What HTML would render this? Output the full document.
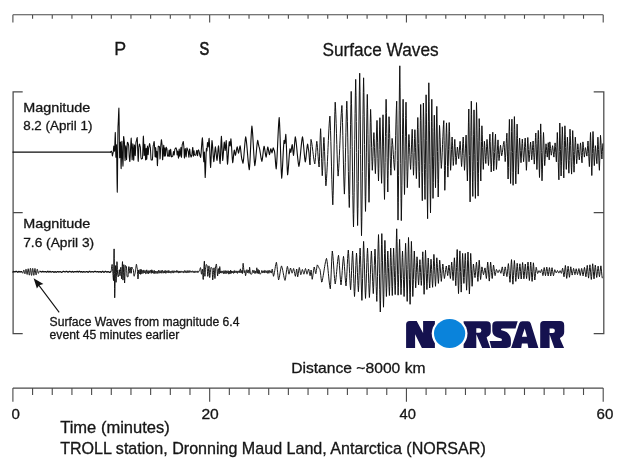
<!DOCTYPE html>
<html><head><meta charset="utf-8"><title>Seismogram</title>
<style>
html,body{margin:0;padding:0;background:#fff;}
body{width:620px;height:475px;overflow:hidden;font-family:"Liberation Sans",sans-serif;}
svg{display:block;will-change:transform;}
text{font-family:"Liberation Sans",sans-serif;fill:#151515;stroke:#151515;stroke-width:0.3px;paint-order:stroke;}
.ax{fill:none;stroke:#4a4a4a;stroke-width:1.1;}
.tr{fill:none;stroke:#0d0d0d;stroke-width:0.97;stroke-linejoin:round;stroke-linecap:round;}
</style></head><body>
<svg width="620" height="475" viewBox="0 0 620 475">
<rect width="620" height="475" fill="#fff"/>
<!-- axes -->
<path class="ax" d="M12.90 14.80 H603.20 M12.90 14.80 v7.80 M32.58 14.80 v3.90 M52.25 14.80 v3.90 M71.93 14.80 v3.90 M91.61 14.80 v3.90 M111.28 14.80 v3.90 M130.96 14.80 v3.90 M150.64 14.80 v3.90 M170.31 14.80 v3.90 M189.99 14.80 v3.90 M209.67 14.80 v7.80 M229.34 14.80 v3.90 M249.02 14.80 v3.90 M268.70 14.80 v3.90 M288.37 14.80 v3.90 M308.05 14.80 v3.90 M327.73 14.80 v3.90 M347.40 14.80 v3.90 M367.08 14.80 v3.90 M386.76 14.80 v3.90 M406.43 14.80 v7.80 M426.11 14.80 v3.90 M445.79 14.80 v3.90 M465.46 14.80 v3.90 M485.14 14.80 v3.90 M504.82 14.80 v3.90 M524.49 14.80 v3.90 M544.17 14.80 v3.90 M563.85 14.80 v3.90 M583.52 14.80 v3.90 M603.20 14.80 v7.80"/>
<path class="ax" d="M12.90 388.10 H603.20 M12.90 388.10 v13.60 M32.58 388.10 v6.80 M52.25 388.10 v6.80 M71.93 388.10 v6.80 M91.61 388.10 v6.80 M111.28 388.10 v6.80 M130.96 388.10 v6.80 M150.64 388.10 v6.80 M170.31 388.10 v6.80 M189.99 388.10 v6.80 M209.67 388.10 v13.60 M229.34 388.10 v6.80 M249.02 388.10 v6.80 M268.70 388.10 v6.80 M288.37 388.10 v6.80 M308.05 388.10 v6.80 M327.73 388.10 v6.80 M347.40 388.10 v6.80 M367.08 388.10 v6.80 M386.76 388.10 v6.80 M406.43 388.10 v13.60 M426.11 388.10 v6.80 M445.79 388.10 v6.80 M465.46 388.10 v6.80 M485.14 388.10 v6.80 M504.82 388.10 v6.80 M524.49 388.10 v6.80 M544.17 388.10 v6.80 M563.85 388.10 v6.80 M583.52 388.10 v6.80 M603.20 388.10 v13.60"/>
<!-- brackets -->
<path class="ax" style="stroke-width:1.25" d="M22.7 91.8 H13.1 V333.6 H22.7 M13.1 212.5 H22.7"/>
<path class="ax" style="stroke-width:1.25" d="M593.7 91.8 H603.8 V333.6 H593.7 M603.8 212.5 H593.7"/>
<!-- traces -->
<path class="tr" style="stroke-width:1.15" d="M12.90 152.10 L110.60 152.10"/>
<path class="tr" style="stroke-width:1.3" d="M12.90 272.04 L13.05 271.99 L13.20 271.91 L13.35 271.80 L13.50 271.69 L13.65 271.60 L13.80 271.52 L13.95 271.51 L14.10 271.56 L14.25 271.64 L14.40 271.73 L14.55 271.82 L14.70 271.90 L14.85 271.96 L15.00 271.96 L15.15 271.90 L15.30 271.81 L15.45 271.71 L15.60 271.60 L15.75 271.50 L15.90 271.40 L16.05 271.33 L16.20 271.28 L16.35 271.34 L16.50 271.41 L16.65 271.50 L16.80 271.61 L16.95 271.73 L17.10 271.84 L17.25 271.96 L17.40 272.06 L17.55 272.15 L17.70 272.22 L17.85 272.24 L18.00 272.16 L18.15 272.05 L18.30 271.91 L18.45 271.76 L18.60 271.63 L18.75 271.51 L18.90 271.44 L19.05 271.48 L19.20 271.55 L19.35 271.64 L19.50 271.73 L19.65 271.83 L19.80 271.92 L19.95 271.99 L20.10 272.01 L20.25 271.96 L20.40 271.89 L20.55 271.80 L20.70 271.71 L20.85 271.63 L21.00 271.58 L21.15 271.58 L21.30 271.63 L21.45 271.68 L21.60 271.63"/>
<path class="tr" style="stroke-width:0.95" d="M21.45 271.68 L21.60 271.63 L21.75 271.64 L21.90 271.79 L22.05 272.07 L22.20 272.42 L22.35 272.77 L22.50 273.06 L22.65 273.20 L22.80 273.13 L22.95 272.79 L23.10 272.26 L23.25 271.62 L23.40 270.98 L23.55 270.44 L23.70 270.12 L23.85 270.08 L24.00 270.34 L24.15 270.87 L24.30 271.58 L24.45 272.36 L24.60 273.11 L24.75 273.64 L24.90 273.84 L25.05 273.66 L25.20 273.11 L25.35 272.28 L25.50 271.32 L25.65 270.33 L25.80 269.58 L25.95 269.20 L26.10 269.27 L26.25 269.79 L26.40 270.67 L26.55 271.76 L26.70 272.87 L26.85 273.78 L27.00 274.35 L27.15 274.48 L27.30 274.10 L27.45 273.27 L27.60 272.14 L27.75 270.90 L27.90 269.79 L28.05 269.01 L28.20 268.73 L28.35 269.02 L28.50 269.84 L28.65 271.06 L28.80 272.39 L28.95 273.66 L29.10 274.64 L29.25 275.15 L29.40 275.10 L29.55 274.46 L29.70 273.42 L29.85 272.09 L30.00 270.67 L30.15 269.42 L30.30 268.56 L30.45 268.25 L30.60 268.55 L30.75 269.42 L30.90 270.72 L31.05 272.24 L31.20 273.67 L31.35 274.77 L31.50 275.37 L31.65 275.37 L31.80 274.76 L31.95 273.63 L32.10 272.18 L32.25 270.71 L32.40 269.47 L32.55 268.63 L32.70 268.37 L32.85 268.72 L33.00 269.62 L33.15 270.90 L33.30 272.28 L33.45 273.62 L33.60 274.67 L33.75 275.26 L33.90 275.29 L34.05 274.73 L34.20 273.70 L34.35 272.35 L34.50 270.93 L34.65 269.67 L34.80 268.76 L34.95 268.43 L35.10 268.68 L35.25 269.45 L35.40 270.60 L35.55 271.93 L35.70 273.21 L35.85 274.24 L36.00 274.86 L36.15 274.89 L36.30 274.44 L36.45 273.60 L36.60 272.51 L36.75 271.37 L36.90 270.34 L37.05 269.60 L37.20 269.23 L37.35 269.28 L37.50 269.73 L37.65 270.48 L37.80 271.34 L37.95 272.17 L38.10 272.84 L38.25 273.26 L38.40 273.39 L38.55 273.25 L38.70 272.90 L38.85 272.44 L39.00 271.97 L39.15 271.55 L39.30 271.23 L39.45 271.08 L39.60 271.09 L39.75 271.20 L39.90 271.36 L40.05 271.50 L40.20 271.57 L40.35 271.54 L40.50 271.45"/>
<path class="tr" style="stroke-width:1.3" d="M40.50 271.45 L40.65 271.52 L40.80 271.60 L40.95 271.69 L41.10 271.78 L41.25 271.86 L41.40 271.94 L41.55 271.99 L41.70 272.00 L41.85 271.93 L42.00 271.84 L42.15 271.73 L42.30 271.61 L42.45 271.50 L42.60 271.41 L42.75 271.34 L42.90 271.36 L43.05 271.45 L43.20 271.57 L43.35 271.71 L43.50 271.83 L43.65 271.93 L43.80 271.96 L43.95 271.93 L44.10 271.89 L44.25 271.84 L44.40 271.79 L44.55 271.73 L44.70 271.67 L44.85 271.62 L45.00 271.58 L45.15 271.55 L45.30 271.56 L45.45 271.61 L45.60 271.67 L45.75 271.75 L45.90 271.83 L46.05 271.92 L46.20 272.00 L46.35 272.07 L46.50 272.12 L46.65 272.12 L46.80 272.04 L46.95 271.93 L47.10 271.79 L47.25 271.65 L47.40 271.51 L47.55 271.39 L47.70 271.29 L47.85 271.27 L48.00 271.36 L48.15 271.49 L48.30 271.64 L48.45 271.80 L48.60 271.94 L48.75 272.05 L48.90 272.11 L49.05 272.04 L49.20 271.94 L49.35 271.82 L49.50 271.69 L49.65 271.57 L49.80 271.47 L49.95 271.40 L50.10 271.45 L50.25 271.53 L50.40 271.64 L50.55 271.75 L50.70 271.87 L50.85 271.97 L51.00 272.05 L51.15 272.09 L51.30 272.05 L51.45 272.00 L51.60 271.94 L51.75 271.88 L51.90 271.81 L52.05 271.74 L52.20 271.67 L52.35 271.61 L52.50 271.56 L52.65 271.53 L52.80 271.56 L52.95 271.63 L53.10 271.71 L53.25 271.82 L53.40 271.93 L53.55 272.04 L53.70 272.14 L53.85 272.22 L54.00 272.29 L54.15 272.29 L54.30 272.20 L54.45 272.09 L54.60 271.95 L54.75 271.82 L54.90 271.71 L55.05 271.63 L55.20 271.67 L55.35 271.74 L55.50 271.84 L55.65 271.96 L55.80 272.06 L55.95 272.16 L56.10 272.23 L56.25 272.24 L56.40 272.19 L56.55 272.12 L56.70 272.04 L56.85 271.94 L57.00 271.85 L57.15 271.76 L57.30 271.68 L57.45 271.61 L57.60 271.56 L57.75 271.58 L57.90 271.63 L58.05 271.70 L58.20 271.77 L58.35 271.85 L58.50 271.92 L58.65 271.97 L58.80 272.01 L58.95 272.00 L59.10 271.97 L59.25 271.92 L59.40 271.86 L59.55 271.80 L59.70 271.75 L59.85 271.70 L60.00 271.66 L60.15 271.63 L60.30 271.67 L60.45 271.73 L60.60 271.80 L60.75 271.88 L60.90 271.96 L61.05 272.05 L61.20 272.13 L61.35 272.20 L61.50 272.26 L61.65 272.30 L61.80 272.27 L61.95 272.21 L62.10 272.13 L62.25 272.04 L62.40 271.94 L62.55 271.84 L62.70 271.73 L62.85 271.63 L63.00 271.54 L63.15 271.46 L63.30 271.40 L63.45 271.36 L63.60 271.39 L63.75 271.43 L63.90 271.48 L64.05 271.54 L64.20 271.60 L64.35 271.67 L64.50 271.74 L64.65 271.80 L64.80 271.86 L64.95 271.90 L65.10 271.94 L65.25 271.94 L65.40 271.88 L65.55 271.78 L65.70 271.67 L65.85 271.56 L66.00 271.44 L66.15 271.35 L66.30 271.28 L66.45 271.29 L66.60 271.35 L66.75 271.42 L66.90 271.51 L67.05 271.61 L67.20 271.72 L67.35 271.82 L67.50 271.92 L67.65 272.00 L67.80 272.07 L67.95 272.11 L68.10 272.08 L68.25 272.03 L68.40 271.97 L68.55 271.90 L68.70 271.83 L68.85 271.75 L69.00 271.67 L69.15 271.59 L69.30 271.53 L69.45 271.47 L69.60 271.42 L69.75 271.41 L69.90 271.45 L70.05 271.50 L70.20 271.57 L70.35 271.64 L70.50 271.72 L70.65 271.80 L70.80 271.88 L70.95 271.95 L71.10 272.00 L71.25 272.05 L71.40 272.05 L71.55 271.99 L71.70 271.90 L71.85 271.79 L72.00 271.68 L72.15 271.59 L72.30 271.51 L72.45 271.48 L72.60 271.55 L72.75 271.65 L72.90 271.77 L73.05 271.89 L73.20 271.99 L73.35 272.07 L73.50 272.09 L73.65 272.06 L73.80 272.02 L73.95 271.96 L74.10 271.90 L74.25 271.84 L74.40 271.78 L74.55 271.71 L74.70 271.65 L74.85 271.60 L75.00 271.56 L75.15 271.53 L75.30 271.55 L75.45 271.62 L75.60 271.71 L75.75 271.80 L75.90 271.89 L76.05 271.95 L76.20 271.94 L76.35 271.86 L76.50 271.76 L76.65 271.64 L76.80 271.53 L76.95 271.43 L77.10 271.36 L77.25 271.36 L77.40 271.44 L77.55 271.53 L77.70 271.64 L77.85 271.76 L78.00 271.87 L78.15 271.96 L78.30 272.04 L78.45 272.04 L78.60 271.94 L78.75 271.80 L78.90 271.64 L79.05 271.49 L79.20 271.36 L79.35 271.27 L79.50 271.30 L79.65 271.38 L79.80 271.48 L79.95 271.59 L80.10 271.71 L80.25 271.82 L80.40 271.92 L80.55 272.00 L80.70 272.02 L80.85 271.98 L81.00 271.90 L81.15 271.82 L81.30 271.74 L81.45 271.67 L81.60 271.63 L81.75 271.68 L81.90 271.76 L82.05 271.86 L82.20 271.97 L82.35 272.07 L82.50 272.16 L82.65 272.22 L82.80 272.17 L82.95 272.09 L83.10 271.99 L83.25 271.88 L83.40 271.77 L83.55 271.69 L83.70 271.63 L83.85 271.66 L84.00 271.70 L84.15 271.75 L84.30 271.81 L84.45 271.87 L84.60 271.93 L84.75 271.98 L84.90 272.02 L85.05 272.05 L85.20 272.03 L85.35 272.00 L85.50 271.96 L85.65 271.92 L85.80 271.87 L85.95 271.82 L86.10 271.77 L86.25 271.73 L86.40 271.68 L86.55 271.65 L86.70 271.62 L86.85 271.60 L87.00 271.65 L87.15 271.71 L87.30 271.79 L87.45 271.88 L87.60 271.98 L87.75 272.07 L87.90 272.15 L88.05 272.21 L88.20 272.26 L88.35 272.20 L88.50 272.09 L88.65 271.96 L88.80 271.81 L88.95 271.65 L89.10 271.51 L89.25 271.38 L89.40 271.29 L89.55 271.28 L89.70 271.34 L89.85 271.43 L90.00 271.54 L90.15 271.65 L90.30 271.77 L90.45 271.87 L90.60 271.96 L90.75 272.03 L90.90 272.03 L91.05 271.99 L91.20 271.94 L91.35 271.88 L91.50 271.82 L91.65 271.76 L91.80 271.70 L91.95 271.66 L92.10 271.64 L92.25 271.67 L92.40 271.71 L92.55 271.77 L92.70 271.83 L92.85 271.90 L93.00 271.95 L93.15 272.00 L93.30 272.04 L93.45 272.03 L93.60 271.98 L93.75 271.92 L93.90 271.85 L94.05 271.77 L94.20 271.69 L94.35 271.61 L94.50 271.53 L94.65 271.45 L94.80 271.39 L94.95 271.34 L95.10 271.33 L95.25 271.37 L95.40 271.44 L95.55 271.53 L95.70 271.62 L95.85 271.71 L96.00 271.80 L96.15 271.87 L96.30 271.93 L96.45 271.96 L96.60 271.92 L96.75 271.86 L96.90 271.79 L97.05 271.72 L97.20 271.66 L97.35 271.60 L97.50 271.56 L97.65 271.58 L97.80 271.64 L97.95 271.72 L98.10 271.81 L98.25 271.89 L98.40 271.97 L98.55 272.02 L98.70 272.03 L98.85 272.01 L99.00 271.97 L99.15 271.93 L99.30 271.88 L99.45 271.82 L99.60 271.77 L99.75 271.72 L99.90 271.68 L100.05 271.64 L100.20 271.61 L100.35 271.61 L100.50 271.70 L100.65 271.83 L100.80 271.97 L100.95 272.12 L101.10 272.24 L101.25 272.32 L101.40 272.26 L101.55 272.16 L101.70 272.04 L101.85 271.90 L102.00 271.75 L102.15 271.60 L102.30 271.47 L102.45 271.36 L102.60 271.28 L102.75 271.29 L102.90 271.39 L103.05 271.52 L103.20 271.68 L103.35 271.84 L103.50 272.00 L103.65 272.14 L103.80 272.25 L103.95 272.30 L104.10 272.24 L104.25 272.16 L104.40 272.05 L104.55 271.93 L104.70 271.80 L104.85 271.67 L105.00 271.55 L105.15 271.45 L105.30 271.38 L105.45 271.34 L105.60 271.39 L105.75 271.46 L105.90 271.54 L106.05 271.64 L106.20 271.74 L106.35 271.84 L106.50 271.94 L106.65 272.02 L106.80 272.09 L106.95 272.14 L107.10 272.11 L107.25 272.02 L107.40 271.92 L107.55 271.80 L107.70 271.69 L107.85 271.61 L108.00 271.57 L108.15 271.61 L108.30 271.67 L108.45 271.74 L108.60 271.82 L108.75 271.90 L108.90 271.99 L109.05 272.07 L109.20 272.15 L109.35 272.22 L109.50 272.27 L109.65 272.31 L109.80 272.27 L109.95 272.22 L110.10 272.15 L110.25 272.07 L110.40 271.99 L110.55 271.90 L110.70 271.81 L110.85 271.72"/>
<path class="tr" style="stroke-width:1.05" d="M110.60 152.10 L111.40 151.21 L111.55 151.48 L111.70 151.92 L111.85 152.33 L112.00 152.69 L112.15 153.94 L112.30 155.41 L112.45 155.88 L112.60 155.28 L112.75 154.45 L112.90 153.59 L113.05 152.92 L113.20 152.33 L113.35 150.97 L113.50 149.15 L113.65 147.38 L113.80 146.14 L113.95 146.58 L114.10 147.99 L114.25 149.65 L114.40 151.05 L114.55 151.21 L114.70 148.20 L114.85 143.84 L115.00 139.07 L115.15 134.97 L115.30 132.40 L115.45 137.46 L115.60 145.48 L115.75 153.25 L115.90 157.13 L116.05 154.16 L116.20 149.82 L116.35 145.79 L116.50 144.80 L116.65 151.85 L116.80 162.22 L116.95 173.92 L117.10 184.58 L117.25 192.11 L117.40 187.60 L117.55 172.62 L117.70 154.12 L117.85 137.27 L118.00 126.53 L118.15 124.31 L118.30 121.11 L118.45 117.21 L118.60 113.30 L118.75 110.06 L118.90 108.00 L119.05 114.81 L119.20 125.65 L119.35 138.26 L119.50 149.80 L119.65 157.77 L119.80 157.49 L119.95 154.21 L120.10 150.10 L120.25 145.98 L120.40 142.69 L120.55 142.05 L120.70 148.76 L120.85 158.09 L121.00 166.31 L121.15 168.65 L121.30 164.09 L121.45 157.66 L121.60 150.73 L121.75 144.85 L121.90 141.32 L122.05 145.01 L122.20 150.65 L122.35 155.49 L122.50 157.67 L122.65 160.42 L122.80 163.71 L122.95 166.22 L123.10 163.27 L123.25 154.69 L123.40 144.83 L123.55 137.44 L123.70 136.43 L123.85 137.47 L124.00 138.80 L124.15 140.13 L124.30 141.20 L124.45 142.37 L124.60 146.68 L124.75 152.64 L124.90 158.13 L125.05 160.81 L125.20 158.53 L125.35 155.10 L125.50 151.26 L125.65 147.90 L125.80 145.75 L125.95 147.61 L126.10 150.88 L126.25 154.64 L126.40 157.89 L126.55 159.63 L126.70 157.41 L126.85 154.01 L127.00 150.02 L127.15 146.24 L127.30 143.36 L127.45 142.32 L127.60 142.40 L127.75 142.49 L127.90 142.67 L128.05 143.08 L128.20 143.60 L128.35 144.10 L128.50 144.45 L128.65 145.56 L128.80 148.06 L128.95 151.25 L129.10 154.45 L129.25 156.97 L129.40 158.28 L129.55 159.67 L129.70 161.26 L129.85 161.47 L130.00 159.71 L130.15 157.29 L130.30 154.34 L130.45 151.07 L130.60 147.72 L130.75 144.53 L130.90 141.74 L131.05 139.52 L131.20 138.00 L131.35 140.29 L131.50 143.85 L131.65 148.22 L131.80 152.75 L131.95 156.76 L132.10 159.69 L132.25 159.48 L132.40 156.03 L132.55 151.53 L132.70 147.11 L132.85 143.89 L133.00 144.37 L133.15 147.64 L133.30 151.89 L133.45 156.16 L133.60 159.51 L133.75 160.33 L133.90 157.59 L134.05 153.74 L134.20 149.66 L134.35 146.32 L134.50 144.91 L134.65 146.66 L134.80 149.23 L134.95 152.04 L135.10 154.41 L135.25 155.60 L135.40 153.59 L135.55 150.52 L135.70 147.05 L135.85 143.98 L136.00 141.98 L136.15 141.56 L136.30 141.07 L136.45 140.45 L136.60 139.76 L136.75 139.06 L136.90 138.44 L137.05 137.93 L137.20 137.60 L137.35 139.97 L137.50 143.64 L137.65 148.16 L137.80 152.91 L137.95 157.21 L138.10 160.48 L138.25 161.35 L138.40 158.72 L138.55 155.01 L138.70 151.06 L138.85 147.78 L139.00 145.99 L139.15 145.46 L139.30 144.71 L139.45 144.11 L139.60 144.21 L139.75 144.72 L139.90 145.37 L140.05 146.04 L140.20 146.59 L140.35 147.04 L140.50 149.25 L140.65 152.55 L140.80 155.68 L140.95 157.40 L141.10 157.89 L141.25 158.56 L141.40 159.00 L141.55 158.95 L141.70 158.88 L141.85 158.78 L142.00 158.68 L142.15 158.59 L142.30 158.51 L142.45 158.46 L142.60 156.24 L142.75 152.52 L142.90 147.94 L143.05 143.19 L143.20 139.06 L143.35 136.14 L143.50 137.22 L143.65 141.40 L143.80 146.67 L143.95 151.76 L144.10 155.46 L144.25 155.29 L144.40 152.38 L144.55 148.79 L144.70 145.65 L144.85 144.29 L145.00 146.53 L145.15 149.87 L145.30 153.72 L145.45 157.32 L145.60 160.00 L145.75 159.85 L145.90 156.12 L146.05 151.62 L146.20 148.29 L146.35 150.04 L146.50 154.96 L146.65 159.21 L146.80 158.95 L146.95 156.43 L147.10 153.19 L147.25 149.89 L147.40 147.21 L147.55 145.98 L147.70 147.91 L147.85 150.73 L148.00 153.38 L148.15 154.69 L148.30 153.35 L148.45 151.34 L148.60 149.25 L148.75 147.75 L148.90 147.15 L149.05 146.41 L149.20 145.47 L149.35 144.54 L149.50 143.80 L149.65 143.63 L149.80 144.29 L149.95 145.21 L150.10 146.13 L150.25 146.79 L150.40 147.93 L150.55 150.35 L150.70 153.45 L150.85 156.56 L151.00 158.99 L151.15 160.00 L151.30 160.00 L151.45 160.00 L151.60 159.99 L151.75 159.98 L151.90 159.96 L152.05 159.94 L152.20 159.93 L152.35 159.92 L152.50 158.58 L152.65 155.87 L152.80 152.49 L152.95 149.16 L153.10 146.57 L153.25 145.37 L153.40 144.90 L153.55 144.22 L153.70 143.44 L153.85 142.65 L154.00 141.98 L154.15 141.51 L154.30 142.56 L154.45 145.40 L154.60 147.60 L154.75 149.70 L154.90 153.20 L155.05 156.43 L155.20 156.93 L155.35 154.07 L155.50 150.44 L155.65 147.61 L155.80 148.30 L155.95 151.80 L156.10 155.52 L156.25 157.33 L156.40 155.68 L156.55 153.31 L156.70 151.25 L156.85 151.48 L157.00 155.33 L157.15 160.30 L157.30 164.58 L157.45 165.70 L157.60 162.88 L157.75 158.89 L157.90 154.41 L158.05 150.25 L158.20 147.13 L158.35 146.09 L158.50 146.26 L158.65 146.47 L158.80 146.60 L158.95 146.58 L159.10 146.55 L159.25 146.52 L159.40 146.49 L159.55 147.48 L159.70 151.19 L159.85 155.65 L160.00 158.87 L160.15 157.96 L160.30 155.43 L160.45 152.25 L160.60 148.95 L160.75 146.11 L160.90 144.20 L161.05 143.04 L161.20 141.23 L161.35 139.69 L161.50 139.88 L161.65 141.03 L161.80 142.49 L161.95 143.90 L162.10 144.93 L162.25 147.43 L162.40 153.89 L162.55 159.73 L162.70 159.79 L162.85 157.32 L163.00 154.24 L163.15 151.35 L163.30 149.37 L163.45 148.28 L163.60 146.60 L163.75 145.17 L163.90 147.01 L164.05 152.18 L164.20 156.14 L164.35 154.72 L164.50 151.92 L164.65 149.19 L164.80 148.09 L164.95 150.43 L165.10 153.62 L165.25 156.00 L165.40 155.53 L165.55 154.01 L165.70 152.10 L165.85 150.11 L166.00 148.41 L166.15 147.27 L166.30 147.32 L166.45 147.64 L166.60 147.99 L166.75 148.25 L166.90 148.91 L167.05 150.38 L167.20 152.25 L167.35 154.12 L167.50 155.59 L167.65 156.20 L167.80 156.20 L167.95 156.21 L168.10 156.22 L168.25 156.22 L168.40 156.22 L168.55 155.45 L168.70 154.15 L168.85 152.61 L169.00 151.15 L169.15 150.07 L169.30 150.39 L169.45 152.37 L169.60 154.74 L169.75 156.58 L169.90 156.45 L170.05 154.99 L170.20 153.10 L170.35 151.21 L170.50 149.72 L170.65 149.32 L170.80 150.34 L170.95 151.77 L171.10 153.42 L171.25 154.99 L171.40 156.24 L171.55 156.89 L171.70 156.83 L171.85 156.74 L172.00 156.64 L172.15 156.52 L172.30 156.41 L172.45 156.31 L172.60 156.23 L172.75 156.05 L172.90 155.34 L173.05 154.33 L173.20 153.22 L173.35 152.23 L173.50 151.55 L173.65 151.90 L173.80 152.95 L173.95 154.14 L174.10 155.02 L174.25 154.70 L174.40 153.49 L174.55 151.95 L174.70 150.43 L174.85 149.29 L175.00 148.88 L175.15 148.75 L175.30 148.58 L175.45 148.38 L175.60 148.18 L175.75 148.00 L175.90 147.86 L176.05 147.87 L176.20 148.26 L176.35 148.73 L176.50 149.04 L176.65 150.08 L176.80 151.76 L176.95 153.56 L177.10 154.86 L177.25 154.62 L177.40 153.42 L177.55 152.06 L177.70 151.08 L177.85 151.63 L178.00 153.17 L178.15 155.06 L178.30 156.86 L178.45 158.14 L178.60 157.51 L178.75 155.31 L178.90 152.63 L179.05 150.27 L179.20 149.11 L179.35 150.42 L179.50 152.41 L179.65 154.51 L179.80 156.11 L179.95 156.23 L180.10 155.25 L180.25 153.92 L180.40 152.38 L180.55 150.79 L180.70 149.33 L180.85 148.17 L181.00 147.40 L181.15 150.22 L181.30 154.41 L181.45 157.34 L181.60 155.82 L181.75 153.18 L181.90 150.03 L182.05 147.06 L182.20 144.87 L182.35 144.12 L182.50 143.78 L182.65 143.33 L182.80 142.81 L182.95 142.31 L183.10 141.87 L183.25 141.57 L183.40 142.13 L183.55 143.70 L183.70 145.19 L183.85 146.55 L184.00 149.69 L184.15 153.66 L184.30 157.04 L184.45 158.09 L184.60 156.62 L184.75 154.54 L184.90 152.23 L185.05 150.13 L185.20 148.64 L185.35 148.86 L185.50 150.29 L185.65 152.15 L185.80 154.12 L185.95 155.84 L186.10 157.01 L186.25 156.26 L186.40 154.33 L186.55 151.96 L186.70 149.72 L186.85 148.13 L187.00 147.94 L187.15 148.26 L187.30 148.67 L187.45 149.15 L187.60 149.64 L187.75 150.10 L187.90 150.47 L188.05 150.74 L188.20 151.37 L188.35 152.59 L188.50 154.12 L188.65 155.65 L188.80 156.87 L188.95 157.23 L189.10 155.56 L189.25 153.16 L189.40 150.72 L189.55 148.96 L189.70 149.08 L189.85 150.23 L190.00 151.69 L190.15 153.16 L190.30 154.30 L190.45 154.86 L190.60 155.31 L190.75 155.94 L190.90 156.56 L191.05 157.01 L191.20 156.95 L191.35 156.57 L191.50 156.15 L191.65 155.86 L191.80 155.20 L191.95 154.12 L192.10 152.75 L192.25 151.24 L192.40 149.74 L192.55 148.43 L192.70 147.44 L192.85 147.46 L193.00 149.85 L193.15 153.01 L193.30 155.68 L193.45 156.18 L193.60 154.58 L193.75 152.56 L193.90 150.93 L194.05 150.85 L194.20 152.00 L194.35 153.41 L194.50 154.57 L194.65 154.98 L194.80 155.01 L194.95 155.04 L195.10 155.08 L195.25 155.12 L195.40 155.15 L195.55 155.18 L195.70 155.20 L195.85 154.79 L196.00 154.18 L196.15 153.40 L196.30 152.56 L196.45 151.72 L196.60 150.99 L196.75 150.44 L196.90 150.39 L197.05 151.54 L197.20 153.13 L197.35 154.70 L197.50 155.80 L197.65 155.45 L197.80 154.40 L197.95 153.06 L198.10 151.70 L198.25 150.56 L198.25 150.56 L198.38 150.28"/>
<path class="tr" style="stroke-width:1.12" d="M198.25 150.56 L198.25 150.56 L198.38 150.28 L198.50 150.00 L198.85 150.83 L199.20 152.13 L199.55 153.70 L199.90 155.27 L200.25 156.57 L200.60 157.40 L200.90 155.22 L201.20 151.79 L201.50 147.65 L201.80 143.51 L202.10 140.08 L202.40 137.90 L202.75 142.48 L203.10 149.75 L203.45 157.02 L203.80 161.60 L204.10 156.80 L204.40 152.00 L204.80 164.70 L205.20 177.40 L205.50 171.82 L205.80 162.95 L206.10 154.08 L206.40 148.50 L206.65 149.75 L206.90 151.00 L207.20 146.80 L207.50 142.60 L207.85 144.80 L208.20 147.00 L208.50 144.53 L208.80 140.87 L209.10 138.40 L209.40 142.53 L209.70 149.13 L210.00 156.67 L210.30 163.27 L210.60 167.40 L210.95 162.21 L211.30 153.95 L211.65 145.69 L212.00 140.50 L212.30 142.86 L212.60 146.57 L212.90 151.05 L213.20 155.53 L213.50 159.24 L213.80 161.60 L214.12 159.49 L214.44 156.12 L214.76 152.28 L215.08 148.91 L215.40 146.80 L215.72 148.75 L216.04 151.87 L216.36 155.43 L216.68 158.55 L217.00 160.50 L217.30 158.40 L217.60 155.06 L217.90 151.24 L218.20 147.90 L218.50 145.80 L218.82 148.35 L219.14 152.42 L219.46 157.08 L219.78 161.15 L220.10 163.70 L220.43 158.41 L220.75 150.00 L221.07 141.59 L221.40 136.30 L221.72 140.97 L222.05 148.40 L222.38 155.83 L222.70 160.50 L223.02 157.88 L223.34 153.69 L223.66 148.91 L223.98 144.72 L224.30 142.10 L224.75 146.30 L225.20 150.50 L225.53 147.62 L225.87 143.38 L226.20 140.50 L226.52 145.08 L226.85 152.35 L227.18 159.62 L227.50 164.20 L227.80 161.67 L228.10 157.70 L228.40 152.90 L228.70 148.10 L229.00 144.13 L229.30 141.60 L229.70 143.80 L230.10 146.00 L230.50 142.45 L230.90 138.90 L231.26 142.28 L231.62 147.67 L231.98 153.83 L232.34 159.22 L232.70 162.60 L233.02 160.80 L233.34 157.94 L233.66 154.66 L233.98 151.80 L234.30 150.00 L234.67 151.52 L235.03 153.78 L235.40 155.30 L235.76 154.09 L236.12 152.15 L236.48 149.95 L236.84 148.01 L237.20 146.80 L237.52 148.04 L237.85 150.00 L238.18 151.96 L238.50 153.20 L238.82 152.15 L239.14 150.46 L239.46 148.54 L239.78 146.85 L240.10 145.80 L240.40 147.33 L240.70 149.74 L241.00 152.65 L241.30 155.56 L241.60 157.97 L241.90 159.50 L242.27 160.56 L242.63 162.14 L243.00 163.20 L243.34 161.17 L243.68 158.12 L244.01 154.30 L244.35 150.05 L244.69 145.80 L245.02 141.98 L245.36 138.93 L245.70 136.90 L246.00 138.44 L246.30 140.58 L246.60 143.25 L246.90 146.36 L247.20 149.77 L247.50 153.35 L247.80 156.93 L248.10 160.34 L248.40 163.45 L248.70 166.12 L249.00 168.26 L249.30 169.80 L249.62 166.42 L249.95 161.34 L250.28 154.97 L250.60 147.90 L250.93 140.83 L251.25 134.46 L251.58 129.38 L251.90 126.00 L252.22 128.64 L252.54 132.51 L252.87 137.38 L253.19 142.92 L253.51 148.68 L253.83 154.22 L254.16 159.09 L254.48 162.96 L254.80 165.60 L255.12 163.92 L255.44 161.44 L255.77 158.33 L256.09 154.79 L256.41 151.11 L256.73 147.57 L257.06 144.46 L257.38 141.98 L257.70 140.30 L258.10 142.00 L258.50 144.50 L258.90 146.20 L259.20 147.08 L259.50 148.35 L259.80 149.95 L260.10 151.79 L260.40 153.75 L260.70 155.71 L261.00 157.55 L261.30 159.15 L261.60 160.42 L261.90 161.30 L262.21 159.92 L262.53 157.80 L262.84 155.16 L263.16 152.34 L263.47 149.70 L263.79 147.58 L264.10 146.20 L264.43 147.42 L264.77 149.33 L265.10 151.65 L265.43 153.97 L265.77 155.88 L266.10 157.10 L266.44 155.66 L266.78 153.36 L267.12 150.74 L267.46 148.44 L267.80 147.00 L268.14 148.08 L268.48 149.81 L268.82 151.79 L269.16 153.52 L269.50 154.60 L269.82 153.46 L270.15 151.65 L270.48 149.84 L270.80 148.70 L271.20 149.91 L271.60 151.69 L272.00 152.90 L272.40 151.46 L272.80 149.34 L273.20 147.90 L273.52 148.54 L273.85 149.55 L274.18 150.56 L274.50 151.20 L274.84 153.72 L275.18 157.75 L275.52 162.35 L275.86 166.38 L276.20 168.90 L276.50 165.90 L276.80 161.57 L277.10 156.13 L277.40 149.88 L277.70 143.20 L278.00 136.52 L278.30 130.27 L278.60 124.83 L278.90 120.50 L279.20 117.50 L279.51 122.19 L279.82 129.22 L280.14 138.05 L280.45 147.85 L280.76 157.65 L281.07 166.48 L281.39 173.51 L281.70 178.20 L282.00 175.27 L282.30 170.88 L282.60 165.37 L282.90 159.25 L283.20 153.13 L283.50 147.62 L283.80 143.23 L284.10 140.30 L284.50 141.90 L284.90 143.50 L285.20 140.88 L285.50 137.02 L285.80 134.40 L286.10 138.92 L286.40 146.02 L286.70 154.60 L287.00 163.19 L287.30 170.28 L287.60 174.80 L287.94 172.41 L288.29 168.74 L288.63 164.19 L288.97 159.31 L289.31 154.76 L289.66 151.09 L290.00 148.70 L290.40 150.60 L290.80 152.50 L291.15 150.96 L291.50 148.50 L291.85 146.04 L292.20 144.50 L292.52 146.62 L292.85 150.00 L293.18 153.38 L293.50 155.50 L293.80 153.42 L294.10 150.15 L294.40 146.20 L294.70 142.25 L295.00 138.98 L295.30 136.90 L295.63 138.44 L295.95 140.61 L296.28 143.34 L296.61 146.50 L296.94 149.94 L297.26 153.46 L297.59 156.90 L297.92 160.06 L298.25 162.79 L298.57 164.96 L298.90 166.50 L299.20 165.11 L299.50 163.18 L299.80 160.77 L300.10 157.96 L300.40 154.88 L300.70 151.65 L301.00 148.42 L301.30 145.34 L301.60 142.53 L301.90 140.12 L302.20 138.19 L302.50 136.80 L302.81 138.48 L303.12 140.94 L303.43 144.05 L303.74 147.57 L304.06 151.23 L304.37 154.75 L304.68 157.86 L304.99 160.32 L305.30 162.00 L305.63 160.35 L305.96 157.82 L306.29 154.68 L306.61 151.32 L306.94 148.18 L307.27 145.65 L307.60 144.00 L307.93 145.72 L308.27 148.28 L308.60 150.00 L308.95 152.80 L309.30 157.25 L309.65 161.70 L310.00 164.50"/>
<path class="tr" d="M310.00 164.50 L310.33 157.28 L310.67 146.62 L311.00 139.40 L311.32 140.55 L311.63 142.14 L311.95 144.13 L312.27 146.44 L312.58 148.99 L312.90 151.65 L313.22 154.31 L313.53 156.86 L313.85 159.17 L314.17 161.16 L314.48 162.75 L314.80 163.90 L315.13 161.37 L315.47 157.40 L315.80 152.60 L316.13 147.80 L316.47 143.83 L316.80 141.30 L317.13 143.65 L317.46 147.27 L317.79 151.75 L318.11 156.55 L318.44 161.03 L318.77 164.65 L319.10 167.00 L319.40 161.54 L319.70 152.83 L320.00 142.87 L320.30 134.16 L320.60 128.70 L320.93 135.40 L321.26 146.09 L321.59 158.31 L321.92 169.01 L322.25 175.71 L322.58 170.25 L322.91 161.53 L323.24 151.58 L323.57 142.86 L323.90 137.40 L324.23 142.81 L324.57 151.31 L324.90 161.60 L325.23 171.88 L325.57 180.39 L325.90 185.80 L326.21 182.83 L326.52 178.78 L326.82 173.74 L327.13 167.87 L327.44 161.37 L327.75 154.47 L328.05 147.43 L328.36 140.53 L328.67 134.03 L328.98 128.16 L329.28 123.12 L329.59 119.07 L329.90 116.10 L330.22 122.01 L330.54 130.68 L330.87 141.60 L331.19 154.00 L331.51 166.90 L331.83 179.30 L332.16 190.22 L332.48 198.89 L332.80 204.80 L333.14 195.41 L333.49 180.99 L333.83 163.08 L334.17 143.92 L334.51 126.01 L334.86 111.59 L335.20 102.20 L335.52 107.12 L335.84 114.34 L336.17 123.45 L336.49 133.77 L336.81 144.53 L337.13 154.85 L337.46 163.96 L337.78 171.18 L338.10 176.10 L338.42 172.79 L338.73 168.20 L339.05 162.47 L339.37 155.80 L339.68 148.47 L340.00 140.80 L340.32 133.13 L340.63 125.80 L340.95 119.13 L341.27 113.40 L341.58 108.81 L341.90 105.50 L342.21 112.34 L342.52 122.60 L342.84 135.49 L343.15 149.80 L343.46 164.11 L343.77 177.00 L344.09 187.26 L344.40 194.10 L344.70 186.93 L345.00 176.17 L345.30 162.65 L345.60 147.65 L345.90 132.65 L346.20 119.13 L346.50 108.37 L346.80 101.20 L347.11 109.40 L347.43 121.72 L347.74 137.18 L348.05 154.35 L348.36 171.52 L348.68 186.98 L348.99 199.30 L349.30 207.50 L349.62 194.52 L349.93 174.12 L350.25 149.45 L350.57 124.78 L350.88 104.38 L351.20 91.40 L351.53 103.81 L351.86 122.87 L352.19 146.54 L352.51 171.86 L352.84 195.53 L353.17 214.59 L353.50 227.00 L353.81 213.49 L354.13 192.74 L354.44 166.98 L354.76 139.42 L355.07 113.66 L355.39 92.91 L355.70 79.40 L356.02 95.74 L356.33 121.40 L356.65 152.45 L356.97 183.50 L357.28 209.16 L357.60 225.50 L357.95 208.47 L358.30 181.71 L358.65 149.35 L359.00 116.99 L359.35 90.23 L359.70 73.20 L360.00 91.37 L360.30 119.92 L360.60 154.45 L360.90 188.98 L361.20 217.53 L361.50 235.70 L361.80 221.25 L362.10 199.05 L362.40 171.49 L362.70 142.01 L363.00 114.45 L363.30 92.25 L363.60 77.80 L363.92 92.74 L364.23 116.21 L364.55 144.60 L364.87 172.99 L365.18 196.46 L365.50 211.40 L365.80 198.31 L366.10 177.76 L366.40 152.90 L366.70 128.04 L367.00 107.49 L367.30 94.40 L367.64 109.78 L367.98 134.33 L368.32 162.37 L368.66 186.92 L369.00 202.30 L369.32 189.06 L369.64 167.93 L369.96 143.77 L370.28 122.64 L370.60 109.40 L370.94 118.08 L371.28 131.93 L371.62 147.77 L371.96 161.62 L372.30 170.30 L372.62 164.93 L372.94 156.35 L373.26 146.55 L373.58 137.97 L373.90 132.60 L374.20 138.44 L374.50 147.77 L374.80 158.43 L375.10 167.76 L375.40 173.60 L375.72 166.02 L376.04 153.91 L376.36 140.09 L376.68 127.98 L377.00 120.40 L377.30 129.04 L377.60 142.82 L377.90 158.58 L378.20 172.36 L378.50 181.00 L378.85 168.78 L379.20 149.35 L379.55 129.92 L379.90 117.70 L380.24 127.05 L380.58 141.97 L380.92 159.03 L381.26 173.95 L381.60 183.30 L381.95 170.08 L382.30 149.05 L382.65 128.02 L383.00 114.80 L383.30 126.86 L383.60 146.10 L383.90 168.10 L384.20 187.34 L384.50 199.40 L384.82 185.13 L385.14 162.36 L385.46 136.34 L385.78 113.57 L386.10 99.30 L386.44 112.51 L386.78 133.60 L387.12 157.70 L387.46 178.79 L387.80 192.00 L388.20 170.35 L388.60 138.35 L389.00 116.70 L389.32 123.24 L389.63 133.52 L389.95 145.95 L390.27 158.38 L390.58 168.66 L390.90 175.20 L391.20 168.10 L391.50 156.80 L391.80 145.50 L392.10 138.40 L392.41 140.86 L392.73 144.56 L393.04 149.20 L393.35 154.35 L393.66 159.50 L393.98 164.14 L394.29 167.84 L394.60 170.30 L394.95 162.57 L395.30 150.43 L395.65 135.75 L396.00 121.07 L396.35 108.93 L396.70 101.20 L397.02 124.15 L397.35 160.65 L397.68 197.15 L398.00 220.10 L398.30 202.84 L398.60 175.74 L398.90 142.95 L399.20 110.16 L399.50 83.06 L399.80 65.80 L400.10 87.86 L400.40 123.08 L400.70 163.32 L401.00 198.54 L401.30 220.60 L401.60 207.03 L401.90 185.73 L402.20 159.95 L402.50 134.17 L402.80 112.87 L403.10 99.30 L403.45 117.68 L403.80 146.90 L404.15 176.12 L404.50 194.50 L404.80 181.35 L405.10 160.35 L405.40 136.35 L405.70 115.35 L406.00 102.20 L406.32 118.71 L406.65 144.95 L406.98 171.19 L407.30 187.70 L407.62 180.12 L407.94 168.01 L408.26 154.19 L408.58 142.08 L408.90 134.50 L409.24 139.47 L409.58 147.41 L409.92 156.49 L410.26 164.43 L410.60 169.40 L410.92 163.68 L411.24 154.56 L411.56 144.14 L411.88 135.02 L412.20 129.30 L412.52 138.16 L412.85 152.25 L413.18 166.34 L413.50 175.20 L413.85 166.42 L414.20 152.45 L414.55 138.48 L414.90 129.70 L415.20 136.67 L415.50 147.79 L415.80 160.51 L416.10 171.63 L416.40 178.60 L416.75 166.80 L417.10 148.05 L417.45 129.30 L417.80 117.50 L418.10 127.50 L418.40 143.48 L418.70 161.72 L419.00 177.70 L419.30 187.70 L419.65 171.64 L420.00 146.10 L420.35 120.56 L420.70 104.50 L421.02 118.21 L421.34 140.10 L421.66 165.10 L421.98 186.99 L422.30 200.70 L422.67 172.61 L423.03 131.09 L423.40 103.00 L423.72 116.74 L424.04 138.67 L424.36 163.73 L424.68 185.66 L425.00 199.40 L425.37 169.33 L425.73 124.87 L426.10 94.80 L426.40 112.46 L426.70 140.65 L427.00 172.85 L427.30 201.04 L427.60 218.70 L428.00 179.63 L428.40 121.87 L428.80 82.80 L429.14 101.34 L429.48 130.94 L429.82 164.76 L430.16 194.36 L430.50 212.90 L430.82 190.97 L431.15 156.10 L431.48 121.23 L431.80 99.30 L432.20 127.79 L432.60 169.91 L433.00 198.40 L433.32 182.34 L433.65 156.80 L433.98 131.26 L434.30 115.20 L434.70 136.04 L435.10 166.86 L435.50 187.70 L435.82 172.01 L436.15 147.05 L436.48 122.09 L436.80 106.40 L437.15 123.89 L437.50 151.70 L437.85 179.51 L438.20 197.00 L438.52 183.18 L438.85 161.20 L439.18 139.22 L439.50 125.40 L439.80 130.21 L440.10 137.76 L440.40 146.90 L440.70 156.04 L441.00 163.59 L441.30 168.40 L441.61 164.71 L441.93 159.17 L442.24 152.22 L442.55 144.50 L442.86 136.78 L443.18 129.83 L443.49 124.29 L443.80 120.60 L444.13 140.64 L444.47 170.26 L444.80 190.30 L445.14 180.69 L445.48 165.36 L445.82 147.84 L446.16 132.51 L446.50 122.90 L446.85 133.36 L447.20 150.00 L447.55 166.64 L447.90 177.10 L448.22 166.56 L448.55 149.80 L448.88 133.04 L449.20 122.50 L449.55 131.73 L449.90 146.40 L450.25 161.07 L450.60 170.30 L450.90 165.55 L451.20 157.98 L451.50 149.32 L451.80 141.75 L452.10 137.00 L452.50 145.19 L452.90 157.31 L453.30 165.50 L453.60 161.78 L453.90 155.84 L454.20 149.06 L454.50 143.12 L454.80 139.40 L455.20 146.62 L455.60 157.28 L456.00 164.50 L456.35 161.12 L456.70 155.75 L457.05 150.38 L457.40 147.00 L457.72 149.26 L458.05 152.85 L458.38 156.44 L458.70 158.70 L459.05 155.34 L459.40 150.00 L459.75 144.66 L460.10 141.30 L460.40 144.89 L460.70 150.62 L461.00 157.18 L461.30 162.91 L461.60 166.50 L461.92 162.30 L462.24 155.58 L462.56 147.92 L462.88 141.20 L463.20 137.00 L463.52 143.43 L463.85 153.65 L464.18 163.87 L464.50 170.30 L464.82 165.28 L465.14 157.28 L465.46 148.12 L465.78 140.12 L466.10 135.10 L466.43 143.96 L466.75 158.05 L467.07 172.14 L467.40 181.00 L467.75 167.10 L468.10 145.00 L468.45 122.90 L468.80 109.00 L469.12 126.93 L469.45 155.45 L469.78 183.97 L470.10 201.90 L470.50 172.95 L470.90 130.15 L471.30 101.20 L471.60 114.77 L471.90 136.43 L472.20 161.17 L472.50 182.83 L472.80 196.40 L473.20 171.53 L473.60 134.77 L474.00 109.90 L474.35 126.98 L474.70 154.15 L475.05 181.32 L475.40 198.40 L475.77 170.86 L476.13 130.14 L476.50 102.60 L476.82 115.93 L477.14 137.20 L477.46 161.50 L477.78 182.77 L478.10 196.10 L478.47 173.82 L478.83 140.88 L479.20 118.60 L479.52 127.49 L479.84 141.69 L480.16 157.91 L480.48 172.11 L480.80 181.00 L481.17 165.13 L481.53 141.67 L481.90 125.80 L482.25 134.22 L482.60 147.60 L482.95 160.98 L483.30 169.40 L483.67 161.32 L484.03 149.38 L484.40 141.30 L484.75 145.59 L485.10 152.40 L485.45 159.21 L485.80 163.50 L486.20 156.57 L486.60 146.33 L487.00 139.40 L487.30 143.12 L487.60 149.06 L487.90 155.84 L488.20 161.78 L488.50 165.50 L488.85 159.44 L489.20 149.80 L489.55 140.16 L489.90 134.10 L490.22 141.40 L490.55 153.00 L490.88 164.60 L491.20 171.90 L491.52 166.24 L491.84 157.21 L492.16 146.89 L492.48 137.86 L492.80 132.20 L493.25 151.55 L493.70 170.90 L494.00 166.78 L494.30 160.32 L494.60 152.50 L494.90 144.68 L495.20 138.22 L495.50 134.10 L495.95 151.75 L496.40 169.40 L496.72 165.20 L497.04 158.48 L497.36 150.82 L497.68 144.10 L498.00 139.90 L498.33 145.85 L498.67 154.65 L499.00 160.60 L499.30 158.41 L499.60 154.90 L499.90 150.90 L500.20 147.39 L500.50 145.20 L500.90 148.25 L501.30 152.75 L501.70 155.80 L502.03 154.47 L502.36 152.43 L502.69 149.90 L503.01 147.20 L503.34 144.67 L503.67 142.63 L504.00 141.30 L504.40 147.14 L504.80 155.76 L505.20 161.60 L505.54 157.55 L505.88 151.09 L506.22 143.71 L506.56 137.25 L506.90 133.20 L507.20 142.04 L507.50 156.10 L507.80 170.16 L508.10 179.00 L508.43 167.49 L508.75 149.20 L509.07 130.91 L509.40 119.40 L509.70 131.77 L510.00 151.45 L510.30 171.13 L510.60 183.50 L510.93 171.09 L511.25 151.35 L511.57 131.61 L511.90 119.20 L512.20 131.96 L512.50 152.25 L512.80 172.54 L513.10 185.30 L513.42 172.04 L513.75 150.95 L514.08 129.86 L514.40 116.60 L514.75 129.57 L515.10 150.20 L515.45 170.83 L515.80 183.80 L516.12 172.28 L516.45 153.95 L516.77 135.62 L517.10 124.10 L517.50 138.47 L517.90 159.72 L518.30 174.10 L518.62 167.15 L518.95 156.10 L519.27 145.05 L519.60 138.10 L519.95 142.85 L520.30 150.40 L520.65 157.95 L521.00 162.70 L521.33 158.14 L521.65 150.90 L521.97 143.66 L522.30 139.10 L522.62 143.46 L522.95 150.40 L523.27 157.34 L523.60 161.70 L523.92 158.34 L524.24 152.97 L524.56 146.83 L524.88 141.46 L525.20 138.10 L525.60 147.36 L526.00 161.04 L526.40 170.30 L526.75 163.97 L527.10 153.90 L527.45 143.83 L527.80 137.50 L528.10 142.17 L528.40 149.60 L528.70 157.03 L529.00 161.70 L529.32 158.89 L529.64 154.41 L529.96 149.29 L530.28 144.81 L530.60 142.00 L530.97 147.12 L531.33 154.68 L531.70 159.80 L532.05 156.17 L532.40 150.40 L532.75 144.63 L533.10 141.00 L533.50 147.64 L533.90 157.46 L534.30 164.10 L534.60 159.67 L534.90 152.59 L535.20 144.51 L535.50 137.43 L535.80 133.00 L536.17 143.49 L536.53 159.01 L536.90 169.50 L537.25 161.95 L537.60 149.95 L537.95 137.95 L538.30 130.40 L538.60 139.49 L538.90 153.95 L539.20 168.41 L539.50 177.50 L539.80 167.15 L540.10 150.70 L540.40 134.25 L540.70 123.90 L541.03 134.88 L541.35 152.35 L541.67 169.82 L542.00 180.80 L542.30 173.92 L542.60 162.93 L542.90 150.37 L543.20 139.38 L543.50 132.50 L543.80 138.89 L544.10 149.05 L544.40 159.21 L544.70 165.60 L545.03 161.39 L545.35 154.70 L545.67 148.01 L546.00 143.80 L546.33 146.37 L546.65 150.45 L546.97 154.53 L547.30 157.10 L547.62 152.95 L547.93 146.82 L548.25 142.67 L548.57 147.63 L548.88 154.95 L549.20 159.90 L549.50 150.90 L549.80 141.90 L550.18 144.47 L550.55 148.55 L550.92 152.63 L551.30 155.20 L551.62 153.37 L551.95 150.45 L552.27 147.53 L552.60 145.70 L552.92 147.90 L553.25 151.40 L553.58 154.90 L553.90 157.10 L554.20 154.36 L554.50 150.00 L554.80 145.64 L555.10 142.90 L555.42 146.55 L555.75 152.35 L556.08 158.15 L556.40 161.80 L556.85 147.15 L557.30 132.50 L557.62 139.24 L557.94 150.00 L558.26 162.30 L558.58 173.06 L558.90 179.80 L559.35 151.40 L559.80 123.00 L560.12 133.23 L560.45 149.50 L560.77 165.77 L561.10 176.00 L561.50 161.85 L561.90 140.94 L562.30 126.80 L562.60 134.08 L562.90 145.71 L563.20 158.99 L563.50 170.62 L563.80 177.90 L564.17 162.92 L564.53 140.78 L564.90 125.80 L565.25 134.22 L565.60 147.60 L565.95 160.98 L566.30 169.40 L566.67 160.14 L567.03 146.46 L567.40 137.20 L567.70 142.33 L568.00 150.52 L568.30 159.88 L568.60 168.07 L568.90 173.20 L569.27 160.55 L569.63 141.85 L570.00 129.20 L570.32 135.60 L570.64 145.81 L570.96 157.49 L571.28 167.70 L571.60 174.10 L571.97 161.59 L572.33 143.11 L572.70 130.60 L573.03 138.63 L573.35 151.40 L573.67 164.17 L574.00 172.20 L574.33 165.44 L574.65 154.70 L574.97 143.96 L575.30 137.20 L575.65 142.32 L576.00 150.45 L576.35 158.58 L576.70 163.70 L577.07 157.98 L577.43 149.52 L577.80 143.80 L578.10 146.09 L578.40 149.76 L578.70 153.94 L579.00 157.61 L579.30 159.90 L579.60 156.62 L579.90 151.40 L580.20 146.18 L580.50 142.90 L580.80 145.74 L581.10 150.26 L581.40 155.44 L581.70 159.96 L582.00 162.80 L582.45 152.35 L582.90 141.90 L583.20 144.07 L583.50 147.52 L583.80 151.48 L584.10 154.93 L584.40 157.10 L584.73 154.37 L585.07 150.33 L585.40 147.60 L585.70 148.81 L586.00 150.75 L586.30 152.95 L586.60 154.89 L586.90 156.10 L587.27 151.76 L587.63 145.34 L588.00 141.00 L588.35 145.94 L588.70 153.80 L589.05 161.66 L589.40 166.60 L589.77 156.80 L590.13 142.30 L590.50 132.50 L590.83 140.80 L591.15 154.00 L591.47 167.20 L591.80 175.50 L592.10 167.01 L592.40 153.50 L592.70 139.99 L593.00 131.50 L593.33 138.08 L593.65 148.55 L593.97 159.02 L594.30 165.60 L594.67 159.88 L595.03 151.42 L595.40 145.70 L595.70 148.27 L596.00 152.36 L596.30 157.04 L596.60 161.13 L596.90 163.70 L597.23 156.08 L597.57 144.82 L597.90 137.20 L598.20 141.92 L598.50 149.45 L598.80 158.05 L599.10 165.58 L599.40 170.30 L599.77 160.24 L600.13 145.36 L600.50 135.30 L600.85 139.88 L601.20 147.15 L601.55 154.42 L601.90 159.00 L602.35 151.40 L602.80 143.80"/>
<path class="tr" style="stroke-width:0.95" d="M110.70 271.81 L110.85 271.72 L111.10 271.36 L111.25 270.66 L111.40 269.56 L111.55 268.21 L111.70 266.79 L111.85 265.50 L112.00 264.52 L112.15 264.47 L112.30 266.45 L112.45 268.71 L112.60 269.93 L112.75 271.30 L112.90 273.24 L113.05 275.48 L113.20 277.67 L113.35 279.45 L113.50 280.60 L113.65 274.48 L113.80 264.75 L113.95 255.02 L114.10 248.90 L114.25 258.34 L114.40 273.35 L114.55 288.36 L114.70 297.80 L114.85 293.52 L115.00 286.73 L115.15 278.72 L115.30 271.16 L115.45 265.59 L115.60 265.80 L115.75 271.84 L115.90 278.57 L116.05 282.33 L116.20 280.03 L116.35 276.54 L116.50 272.33 L116.65 268.03 L116.80 264.31 L116.95 261.68 L117.10 262.42 L117.25 265.70 L117.40 269.66 L117.55 273.08 L117.70 274.82 L117.85 275.42 L118.00 276.24 L118.15 276.88 L118.30 276.68 L118.45 275.86 L118.60 275.05 L118.75 274.47 L118.90 273.18 L119.05 271.46 L119.20 269.98 L119.35 269.69 L119.50 271.01 L119.65 272.80 L119.80 274.56 L119.95 275.77 L120.10 275.12 L120.25 273.51 L120.40 271.49 L120.55 269.48 L120.70 267.86 L120.85 267.29 L121.00 269.10 L121.15 271.76 L121.30 274.69 L121.45 277.22 L121.60 278.80 L121.75 276.88 L121.90 273.86 L122.05 270.20 L122.20 266.55 L122.35 263.52 L122.50 261.60 L122.65 266.91 L122.80 274.76 L122.95 280.10 L123.10 278.40 L123.25 275.69 L123.40 272.40 L123.55 269.11 L123.70 266.39 L123.85 264.68 L124.00 267.29 L124.15 271.46 L124.30 276.23 L124.45 280.39 L124.60 283.00 L124.75 280.70 L124.90 277.04 L125.05 272.76 L125.20 268.80 L125.35 265.99 L125.50 265.46 L125.65 265.60 L125.80 265.78 L125.95 265.98 L126.10 266.18 L126.25 266.34 L126.40 266.44 L126.55 268.01 L126.70 270.76 L126.85 273.78 L127.00 276.09 L127.15 276.73 L127.30 276.77 L127.45 276.82 L127.60 276.88 L127.75 276.94 L127.90 276.98 L128.05 276.59 L128.20 274.59 L128.35 271.80 L128.50 269.01 L128.65 267.01 L128.80 266.63 L128.95 266.72 L129.10 266.79 L129.25 267.24 L129.40 268.70 L129.55 270.58 L129.70 272.29 L129.85 273.21 L130.00 272.34 L130.15 271.01 L130.30 269.52 L130.45 268.24 L130.60 267.55 L130.75 268.71 L130.90 270.47 L131.05 272.20 L131.20 273.24 L131.35 272.07 L131.50 270.23 L131.65 268.33 L131.80 267.02 L131.95 267.17 L132.10 267.78 L132.25 268.30 L132.40 268.46 L132.55 268.60 L132.70 268.79 L132.85 268.99 L133.00 269.18 L133.15 269.31 L133.30 269.67 L133.45 270.73 L133.60 272.19 L133.75 273.77 L133.90 275.19 L134.05 276.19 L134.20 276.21 L134.35 275.78 L134.50 275.21 L134.65 274.61 L134.80 274.07 L134.95 273.69 L135.10 273.20 L135.25 272.20 L135.40 270.91 L135.55 269.62 L135.70 268.61 L135.85 268.00 L136.00 267.01 L136.15 265.70 L136.30 264.56 L136.45 264.23 L136.60 264.85 L136.75 265.73 L136.90 266.70 L137.05 267.54 L137.20 268.11 L137.35 269.38 L137.50 271.70 L137.65 274.51 L137.80 277.14 L137.95 279.01 L138.10 278.44 L138.25 276.06 L138.40 273.22 L138.55 270.82 L138.70 269.94 L138.85 270.55 L139.00 271.42 L139.15 272.40 L139.30 273.28 L139.45 273.91 L139.60 273.62 L139.75 272.44 L139.90 271.00 L140.05 269.75 L140.20 269.36 L140.35 270.84 L140.50 272.82 L140.65 274.35 L140.80 273.96 L140.95 272.41 L141.10 270.69 L141.25 269.51 L141.40 270.09 L141.55 271.40 L141.70 272.78 L141.85 273.69 L142.00 273.23 L142.15 272.36 L142.30 271.39 L142.45 270.62 L142.60 270.55 L142.75 271.33 L142.90 272.34 L143.05 273.20 L143.20 273.37 L143.35 272.58 L143.50 271.51 L143.65 270.51 L143.80 269.94 L143.95 270.63 L144.10 271.69 L144.25 272.64 L144.40 272.92 L144.55 272.47 L144.70 271.84 L144.85 271.19 L145.00 270.68 L145.15 270.64 L145.30 271.31 L145.45 272.24 L145.60 273.16 L145.75 273.85 L145.90 273.75 L146.05 272.96 L146.20 271.91 L146.35 270.86 L146.50 270.02 L146.65 269.85 L146.80 270.71 L146.95 271.87 L147.10 272.92 L147.25 273.43 L147.40 273.00 L147.55 272.37 L147.70 271.65 L147.85 271.02 L148.00 270.61 L148.15 271.15 L148.30 272.16 L148.45 273.18 L148.60 273.76 L148.75 273.12 L148.90 272.14 L149.05 271.20 L149.20 270.73 L149.35 271.33 L149.50 272.17 L149.65 272.84 L149.80 272.74 L149.95 272.17 L150.10 271.45 L150.25 270.76 L150.40 270.26 L150.55 270.40 L150.70 271.05 L150.85 271.90 L151.00 272.73 L151.15 273.36 L151.30 273.29 L151.45 272.21 L151.60 270.87 L151.75 269.81 L151.90 269.92 L152.05 271.00 L152.20 272.22 L152.35 273.05 L152.50 272.60 L152.65 271.72 L152.80 270.88 L152.95 270.61 L153.10 271.07 L153.25 271.72 L153.40 272.44 L153.55 273.04 L153.70 273.42 L153.85 272.89 L154.00 272.06 L154.15 271.15 L154.30 270.44 L154.45 270.57 L154.60 271.72 L154.75 273.00 L154.90 273.66 L155.05 273.27 L155.20 272.67 L155.35 272.00 L155.50 271.40 L155.65 271.01 L155.80 271.34 L155.95 272.01 L156.10 272.75 L156.25 273.31 L156.40 273.29 L156.55 272.84 L156.70 272.25 L156.85 271.64 L157.00 271.16 L157.15 271.00 L157.30 271.48 L157.45 272.16 L157.60 272.88 L157.75 273.44 L157.90 273.44 L158.05 272.74 L158.20 271.80 L158.35 270.88 L158.50 270.23 L158.65 270.49 L158.80 271.40 L158.95 272.43 L159.10 273.20 L159.25 273.13 L159.40 272.57 L159.55 271.87 L159.70 271.19 L159.85 270.69 L160.00 270.75 L160.15 271.26 L160.30 271.92 L160.45 272.57 L160.60 273.06 L160.75 272.98 L160.90 272.26 L161.05 271.38 L161.20 270.64 L161.35 270.61 L161.50 271.49 L161.65 272.53 L161.80 273.23 L161.95 272.88 L162.10 272.23 L162.25 271.46 L162.40 270.76 L162.55 270.30 L162.70 270.60 L162.85 271.27 L163.00 272.06 L163.15 272.76 L163.30 273.17 L163.45 272.85 L163.60 272.34 L163.75 271.77 L163.90 271.28 L164.05 270.99 L164.20 271.53 L164.35 272.36 L164.50 273.04 L164.65 272.86 L164.80 272.01 L164.95 271.05 L165.10 270.39 L165.25 270.73 L165.40 271.51 L165.55 272.41 L165.70 273.16 L165.85 273.36 L166.00 272.55 L166.15 271.52 L166.30 270.81 L166.45 271.14 L166.60 271.76 L166.75 272.37 L166.90 272.63 L167.05 272.28 L167.20 271.75 L167.35 271.19 L167.50 270.77 L167.65 270.86 L167.80 271.53 L167.95 272.34 L168.10 272.99 L168.25 272.93 L168.40 272.22 L168.55 271.34 L168.70 270.60 L168.85 270.40 L169.00 270.84 L169.15 271.45 L169.30 272.09 L169.45 272.61 L169.60 272.79 L169.75 272.36 L169.90 271.76 L170.05 271.23 L170.20 271.08 L170.35 271.46 L170.50 272.01 L170.65 272.60 L170.80 273.07 L170.95 273.21 L171.10 272.83 L171.25 272.29 L171.40 271.70 L171.55 271.19 L171.70 270.90 L171.85 271.24 L172.00 271.75 L172.15 272.29 L172.30 272.65 L172.45 272.40 L172.60 271.82 L172.75 271.17 L172.90 270.69 L173.05 270.87 L173.20 271.61 L173.35 272.45 L173.50 273.08 L173.65 272.93 L173.80 272.28 L173.95 271.53 L174.10 270.92 L174.25 270.80 L174.40 271.11 L174.55 271.54 L174.70 271.97 L174.85 272.31 L175.00 272.37 L175.15 272.05 L175.30 271.62 L175.45 271.22 L175.60 270.95 L175.75 271.26 L175.90 271.85 L176.05 272.37 L176.20 272.31 L176.35 271.63 L176.50 270.88 L176.65 270.52 L176.80 271.00 L176.95 271.69 L177.10 272.26 L177.25 272.29 L177.40 271.86 L177.55 271.33 L177.70 270.87 L177.85 270.76 L178.00 271.20 L178.15 271.82 L178.30 272.47 L178.45 272.99 L178.60 273.07 L178.75 272.43 L178.90 271.61 L179.05 270.97 L179.20 271.08 L179.35 271.75 L179.50 272.45 L179.65 272.69 L179.80 272.24 L179.95 271.63 L180.10 271.14 L180.25 271.14 L180.40 271.52 L180.55 272.00 L180.70 272.45 L180.85 272.76 L181.00 272.56 L181.15 272.14 L181.30 271.65 L181.45 271.21 L181.60 270.93 L181.75 271.13 L181.90 271.46 L182.05 271.83 L182.20 272.17 L182.35 272.39 L182.50 272.26 L182.65 271.97 L182.80 271.63 L182.95 271.33 L183.10 271.18 L183.25 271.50 L183.40 271.99 L183.55 272.52 L183.70 272.93 L183.85 272.89 L184.00 272.34 L184.15 271.63 L184.30 270.98 L184.45 270.59 L184.60 270.87 L184.75 271.32 L184.90 271.85 L185.05 272.32 L185.20 272.64 L185.35 272.38 L185.50 271.75 L185.65 271.11 L185.80 270.74 L185.95 271.09 L186.10 271.64 L186.25 272.23 L186.40 272.70 L186.55 272.74 L186.70 272.34 L186.85 271.78 L187.00 271.21 L187.15 270.76 L187.30 270.65 L187.45 271.13 L187.60 271.79 L187.75 272.44 L187.90 272.86 L188.05 272.62 L188.20 272.16 L188.35 271.60 L188.50 271.09 L188.65 270.74 L188.80 270.98 L188.95 271.64 L189.10 272.30 L189.25 272.55 L189.40 272.18 L189.55 271.65 L189.70 271.08 L189.85 270.64 L190.00 270.55 L190.15 270.88 L190.30 271.35 L190.45 271.82 L190.60 272.19 L190.75 272.23 L190.90 271.89 L191.05 271.46 L191.20 271.14 L191.35 271.28 L191.50 271.70 L191.65 272.14 L191.80 272.35 L191.95 272.08 L192.10 271.68 L192.25 271.25 L192.40 270.90 L192.55 270.83 L192.70 271.13 L192.85 271.55 L193.00 272.01 L193.15 272.38 L193.30 272.56 L193.45 272.21 L193.60 271.70 L193.75 271.29 L193.90 271.36 L194.05 271.79 L194.20 272.30 L194.35 272.67 L194.50 272.52 L194.65 272.04 L194.80 271.47 L194.95 270.99 L195.10 270.88 L195.25 271.30 L195.40 271.86 L195.55 272.34 L195.70 272.47 L195.85 272.24 L196.00 271.91 L196.15 271.57 L196.30 271.30 L196.45 271.20 L196.60 271.44 L196.75 271.78 L196.90 272.16 L197.05 272.49 L197.20 272.70 L197.35 272.33 L197.50 271.72 L197.65 271.13 L197.80 270.90 L197.95 271.18 L198.10 271.59 L198.25 272.01 L198.40 272.31 L198.55 272.20 L198.70 271.81 L198.85 271.34 L199.00 270.95 L199.15 270.79 L199.30 270.79 L199.50 270.53 L199.65 270.24 L199.80 269.78 L199.95 269.22 L200.10 268.62 L200.25 268.09 L200.40 267.68 L200.55 267.67 L200.70 268.44 L200.85 269.52 L201.00 270.80 L201.15 272.09 L201.30 273.24 L201.45 274.09 L201.60 274.22 L201.75 273.42 L201.90 272.32 L202.05 271.09 L202.20 269.96 L202.35 269.11 L202.50 269.37 L202.65 271.37 L202.80 274.05 L202.95 276.82 L203.10 279.00 L203.25 279.49 L203.40 277.71 L203.55 275.22 L203.70 272.23 L203.85 269.03 L204.00 265.94 L204.15 263.25 L204.30 261.22 L204.45 261.24 L204.60 266.26 L204.75 272.39 L204.90 276.28 L205.05 274.67 L205.20 272.12 L205.35 269.57 L205.50 267.95 L205.65 267.48 L205.80 266.74 L205.95 265.88 L206.10 265.08 L206.25 264.52 L206.40 264.48 L206.55 264.68 L206.70 264.94 L206.85 265.19 L207.00 265.39 L207.15 266.04 L207.30 268.27 L207.45 271.28 L207.60 274.24 L207.75 276.37 L207.90 276.28 L208.05 275.12 L208.20 273.59 L208.35 271.82 L208.50 270.00 L208.65 268.31 L208.80 266.90 L208.95 265.89 L209.10 266.82 L209.25 269.51 L209.40 272.80 L209.55 275.76 L209.70 277.59 L209.85 276.81 L210.00 275.64 L210.15 274.17 L210.30 272.54 L210.45 270.91 L210.60 269.45 L210.75 268.28 L210.90 267.50 L211.05 267.53 L211.20 267.58 L211.35 267.64 L211.50 267.70 L211.65 267.76 L211.80 267.82 L211.95 267.86 L212.10 268.24 L212.25 270.75 L212.40 274.33 L212.55 277.76 L212.70 279.90 L212.85 279.03 L213.00 277.75 L213.15 276.14 L213.30 274.33 L213.45 272.45 L213.60 270.69 L213.75 269.18 L213.90 268.03 L214.05 267.79 L214.20 269.11 L214.35 270.98 L214.50 273.15 L214.65 275.32 L214.80 277.19 L214.95 278.51 L215.10 277.19 L215.25 273.14 L215.40 268.85 L215.55 266.43 L215.70 266.11 L215.85 265.62 L216.00 265.05 L216.15 264.50 L216.30 264.08 L216.45 264.16 L216.60 265.50 L216.75 267.25 L216.90 268.66 L217.05 269.63 L217.20 271.43 L217.35 273.66 L217.50 275.54 L217.65 276.02 L217.80 274.63 L217.95 272.70 L218.10 270.68 L218.25 269.08 L218.40 268.62 L218.55 269.46 L218.70 270.63 L218.85 271.93 L219.00 273.08 L219.15 273.88 L219.30 272.82 L219.45 270.11 L219.60 267.46 L219.75 266.62 L219.90 267.64 L220.05 269.08 L220.20 270.67 L220.35 272.08 L220.50 273.05 L220.65 272.89 L220.80 272.21 L220.95 271.45 L221.10 270.88 L221.25 270.98 L221.40 271.45 L221.55 272.05 L221.70 272.63 L221.85 273.07 L222.00 273.11 L222.15 272.69 L222.30 272.13 L222.45 271.55 L222.60 271.08 L222.75 270.94 L222.90 271.43 L223.05 272.14 L223.20 272.89 L223.35 273.49 L223.50 273.60 L223.65 272.70 L223.80 271.52 L223.95 270.60 L224.10 270.67 L224.25 271.31 L224.40 272.11 L224.55 272.90 L224.70 273.48 L224.85 273.44 L225.00 272.84 L225.15 272.06 L225.30 271.28 L225.45 270.70 L225.60 270.81 L225.75 271.80 L225.90 272.95 L226.05 273.74 L226.20 273.39 L226.35 272.67 L226.50 271.85 L226.65 271.14 L226.80 270.79 L226.95 271.24 L227.10 271.92 L227.25 272.62 L227.40 273.15 L227.55 273.05 L227.70 272.49 L227.85 271.79 L228.00 271.14 L228.15 270.69 L228.30 271.26 L228.45 272.44 L228.60 273.63 L228.75 274.15 L228.90 273.38 L229.05 272.29 L229.20 271.34 L229.35 271.13 L229.50 271.75 L229.65 272.58 L229.80 273.37 L229.95 273.88 L230.10 273.26 L230.25 272.17 L230.40 271.02 L230.55 270.19 L230.70 270.63 L230.85 271.91 L231.00 273.14 L231.15 273.42 L231.30 272.72 L231.45 271.80 L231.60 271.04 L231.75 270.98 L231.90 271.67 L232.05 272.47 L232.20 273.00 L232.35 272.75 L232.50 272.32 L232.65 271.82 L232.80 271.37 L232.95 271.09 L233.10 271.49 L233.25 272.16 L233.40 272.88 L233.55 273.42 L233.70 273.23 L233.85 272.44 L234.00 271.49 L234.15 270.70 L234.30 270.55 L234.45 271.36 L234.60 272.35 L234.75 273.01 L234.90 272.72 L235.05 272.19 L235.20 271.60 L235.35 271.10 L235.50 270.86 L235.65 271.16 L235.80 271.61 L235.95 272.11 L236.10 272.53 L236.25 272.74 L236.40 272.34 L236.55 271.75 L236.70 271.18 L236.85 270.88 L237.00 271.47 L237.15 272.36 L237.30 273.16 L237.45 273.38 L237.60 272.81 L237.75 272.04 L237.90 271.36 L238.05 271.06 L238.20 271.33 L238.35 271.73 L238.50 272.14 L238.65 272.43 L238.80 272.26 L238.95 271.68 L239.10 271.05 L239.25 270.63 L239.40 271.02 L239.55 271.67 L239.70 272.34 L239.85 272.77 L240.00 271.92 L240.15 270.52 L240.30 269.22 L240.45 268.88 L240.60 269.66 L240.75 270.74 L240.90 271.86 L241.05 272.74 L241.20 272.94 L241.35 272.31 L241.50 271.47 L241.65 270.73 L241.80 270.50 L241.95 271.16 L242.10 272.10 L242.25 273.00 L242.40 273.59 L242.55 272.12 L242.70 269.48 L242.85 266.51 L243.00 264.08 L243.15 263.33 L243.30 264.34 L243.45 265.77 L243.60 267.46 L243.75 269.21 L243.90 270.81 L244.05 272.07 L244.20 272.79 L244.35 272.46 L244.50 271.96 L244.65 271.38 L244.80 270.85 L244.95 270.47 L245.10 271.19 L245.25 273.15 L245.40 275.12 L245.55 275.79 L245.70 275.31 L245.85 274.65 L246.00 273.86 L246.15 272.98 L246.30 272.08 L246.45 271.23 L246.60 270.50 L246.75 269.93 L246.90 269.65 L247.05 270.27 L247.20 271.20 L247.35 272.14 L247.50 272.78 L247.65 272.55 L247.80 271.94 L247.95 271.20 L248.10 270.51 L248.25 270.03 L248.40 270.27 L248.55 270.95 L248.70 271.80 L248.85 272.63 L249.00 273.26 L249.15 272.94 L249.30 271.00 L249.45 268.75 L249.60 267.30 L249.75 268.04 L249.90 269.21 L250.05 270.62 L250.20 272.04 L250.35 273.21 L250.50 273.97 L250.65 273.99 L250.80 274.02 L250.95 274.05 L251.10 274.09 L251.25 274.12 L251.40 274.16 L251.55 274.18 L251.70 274.20 L251.85 273.85 L252.00 273.32 L252.15 272.67 L252.30 271.94 L252.45 271.24 L252.60 270.63 L252.75 270.18 L252.90 270.23 L253.05 271.05 L253.20 272.03 L253.35 272.70 L253.50 272.46 L253.65 271.94 L253.80 271.32 L253.95 270.78 L254.10 270.42 L254.25 270.79 L254.40 271.45 L254.55 272.23 L254.70 272.95 L254.85 273.47 L255.00 273.22 L255.15 272.33 L255.30 271.43 L255.45 271.09 L255.60 271.73 L255.75 272.58 L255.90 273.24 L256.05 272.95 L256.20 272.00 L256.35 270.78 L256.50 269.52 L256.65 268.47 L256.80 267.80 L256.95 268.81 L257.10 270.43 L257.25 272.12 L257.40 273.30 L257.55 272.87 L257.70 271.63 L257.85 270.29 L258.00 269.38 L258.15 269.99 L258.30 271.29 L258.45 272.65 L258.60 273.55 L258.75 273.00 L258.90 271.95 L259.05 270.88 L259.20 270.26 L259.35 270.89 L259.50 271.88 L259.65 272.96 L259.80 273.84 L259.95 274.18 L260.10 274.10 L260.25 273.99 L260.40 273.86 L260.55 273.72 L260.70 273.58 L260.85 273.47 L261.00 273.39 L261.15 273.14 L261.30 272.57 L261.45 271.85 L261.60 271.13 L261.75 270.57 L261.90 270.48 L262.05 271.15 L262.20 272.02 L262.35 272.74 L262.50 272.82 L262.65 272.35 L262.80 271.76 L262.95 271.22 L263.10 270.93 L263.25 271.27 L263.40 271.77 L263.55 272.29 L263.70 272.64 L263.85 272.25 L264.00 271.38 L264.15 270.55 L264.30 270.46 L264.45 271.30 L264.60 272.33 L264.75 273.05 L264.90 272.82 L265.05 272.28 L265.20 271.64 L265.35 271.06 L265.50 270.65 L265.65 270.80 L265.80 271.25 L265.95 271.80 L266.10 272.31 L266.25 272.67 L266.40 272.50 L266.55 272.01 L266.70 271.43 L266.85 270.92 L267.00 270.70 L267.15 271.44 L267.30 272.49 L267.45 273.30 L267.60 273.12 L267.75 272.49 L267.90 271.72 L268.05 271.00 L268.20 270.49 L268.35 270.76 L268.50 271.55 L268.65 272.47 L268.80 273.22 L268.95 273.33 L269.10 272.64 L269.25 271.74 L269.40 270.91 L269.55 270.46 L269.70 270.84 L269.85 271.42 L270.00 272.02 L270.15 272.45 L270.30 272.36 L270.45 271.97 L270.60 271.49 L270.75 271.04 L270.90 270.75 L271.05 271.20 L271.20 272.12 L271.35 272.98 L271.50 273.09 L271.65 272.37 L271.80 271.38 L271.95 270.35 L272.10 269.52 L272.25 269.13 L272.25 269.13 L272.56 270.52 L272.88 272.72 L273.19 274.92 L273.50 276.30 L273.82 275.37 L274.14 274.00 L274.47 272.28 L274.79 270.32 L275.11 268.28 L275.43 266.32 L275.76 264.60 L276.08 263.23 L276.40 262.30 L276.71 263.91 L277.03 266.39 L277.34 269.46 L277.66 272.74 L277.97 275.81 L278.29 278.29 L278.60 279.90 L278.92 278.97 L279.24 277.60 L279.57 275.88 L279.89 273.92 L280.21 271.88 L280.53 269.92 L280.86 268.20 L281.18 266.83 L281.50 265.90 L281.82 266.65 L282.14 267.72 L282.45 269.06 L282.77 270.60 L283.09 272.29 L283.41 274.01 L283.73 275.70 L284.05 277.24 L284.36 278.58 L284.68 279.65 L285.00 280.40 L285.34 279.12 L285.69 277.15 L286.03 274.71 L286.37 272.09 L286.71 269.65 L287.06 267.68 L287.40 266.40 L287.72 267.51 L288.04 269.29 L288.36 271.31 L288.68 273.09 L289.00 274.20 L289.30 273.32 L289.60 271.91 L289.90 270.29 L290.20 268.88 L290.50 268.00 L290.82 268.74 L291.14 269.92 L291.46 271.28 L291.78 272.46 L292.10 273.20 L292.40 272.53 L292.70 271.46 L293.00 270.24 L293.30 269.17 L293.60 268.50 L293.96 269.61 L294.32 271.39 L294.68 273.41 L295.04 275.19 L295.40 276.30 L295.72 274.89 L296.05 272.65 L296.38 270.41 L296.70 269.00 L297.03 271.24 L297.37 274.56 L297.70 276.80 L298.02 275.47 L298.34 273.36 L298.66 270.94 L298.98 268.83 L299.30 267.50 L299.60 268.53 L299.90 270.16 L300.20 272.04 L300.50 273.67 L300.80 274.70 L301.12 273.96 L301.44 272.78 L301.76 271.42 L302.08 270.24 L302.40 269.50 L302.70 270.17 L303.00 271.24 L303.30 272.46 L303.60 273.53 L303.90 274.20 L304.22 273.39 L304.54 272.09 L304.86 270.61 L305.18 269.31 L305.50 268.50 L305.80 269.31 L306.10 270.61 L306.40 272.09 L306.70 273.39 L307.00 274.20 L307.32 273.46 L307.64 272.28 L307.96 270.92 L308.28 269.74 L308.60 269.00 L308.90 269.95 L309.20 271.48 L309.50 273.22 L309.80 274.75 L310.10 275.70 L310.43 274.06 L310.77 271.64 L311.10 270.00 L311.47 272.67 L311.83 276.63 L312.20 279.30 L312.53 277.92 L312.87 275.76 L313.20 273.15 L313.53 270.54 L313.87 268.38 L314.20 267.00 L314.52 267.95 L314.84 269.48 L315.16 271.22 L315.48 272.75 L315.80 273.70 L316.10 272.45 L316.40 270.44 L316.70 268.16 L317.00 266.15 L317.30 264.90 L317.62 265.24 L317.95 265.75 L318.27 266.39 L318.60 267.10 L318.93 267.81 L319.25 268.45 L319.57 268.96 L319.90 269.30 L320.20 270.71 L320.50 272.92 L320.80 275.60 L321.10 278.28 L321.40 280.49 L321.70 281.90 L322.00 281.11"/>
<path class="tr" d="M321.70 281.90 L322.00 281.11 L322.30 280.09 L322.60 278.83 L322.90 277.36 L323.20 275.72 L323.50 273.94 L323.80 272.07 L324.10 270.15 L324.40 268.23 L324.70 266.36 L325.00 264.58 L325.30 262.94 L325.60 261.47 L325.90 260.21 L326.20 259.19 L326.50 258.40 L326.82 259.82 L327.13 261.80 L327.45 264.27 L327.77 267.14 L328.08 270.30 L328.40 273.60 L328.72 276.90 L329.03 280.06 L329.35 282.93 L329.67 285.40 L329.98 287.38 L330.30 288.80 L330.63 284.57 L330.97 277.93 L331.30 269.90 L331.63 261.87 L331.97 255.23 L332.30 251.00 L332.62 253.19 L332.94 256.41 L333.27 260.46 L333.59 265.06 L333.91 269.84 L334.23 274.44 L334.56 278.49 L334.88 281.71 L335.20 283.90 L335.50 282.41 L335.80 280.31 L336.10 277.68 L336.40 274.62 L336.70 271.30 L337.00 267.90 L337.30 264.58 L337.60 261.52 L337.90 258.89 L338.20 256.79 L338.50 255.30 L338.81 257.58 L339.12 261.01 L339.44 265.32 L339.75 270.10 L340.06 274.88 L340.38 279.19 L340.69 282.62 L341.00 284.90 L341.31 282.70 L341.62 279.40 L341.94 275.25 L342.25 270.65 L342.56 266.05 L342.88 261.90 L343.19 258.60 L343.50 256.40 L343.81 258.68 L344.12 262.09 L344.44 266.39 L344.75 271.15 L345.06 275.91 L345.38 280.21 L345.69 283.62 L346.00 285.90 L346.33 282.62 L346.66 277.59 L346.99 271.34 L347.31 264.66 L347.64 258.41 L347.97 253.38 L348.30 250.10 L348.63 253.72 L348.96 259.29 L349.29 266.20 L349.61 273.60 L349.94 280.51 L350.27 286.08 L350.60 289.70 L350.93 285.37 L351.27 278.57 L351.60 270.35 L351.93 262.13 L352.27 255.33 L352.60 251.00 L352.92 256.09 L353.23 264.08 L353.55 273.75 L353.87 283.42 L354.18 291.41 L354.50 296.50 L354.83 291.63 L355.17 283.99 L355.50 274.75 L355.83 265.51 L356.17 257.87 L356.50 253.00 L356.82 257.33 L357.13 264.13 L357.45 272.35 L357.77 280.57 L358.08 287.37 L358.40 291.70 L358.74 285.49 L359.08 275.57 L359.42 264.23 L359.76 254.31 L360.10 248.10 L360.46 255.55 L360.82 267.45 L361.18 281.05 L361.54 292.95 L361.90 300.40 L362.24 291.99 L362.58 278.57 L362.92 263.23 L363.26 249.81 L363.60 241.40 L363.92 247.78 L364.23 257.79 L364.55 269.90 L364.87 282.01 L365.18 292.02 L365.50 298.40 L365.83 292.77 L366.17 283.94 L366.50 273.25 L366.83 262.56 L367.17 253.73 L367.50 248.10 L367.82 253.63 L368.13 262.30 L368.45 272.80 L368.77 283.30 L369.08 291.97 L369.40 297.50 L369.73 292.30 L370.07 284.13 L370.40 274.25 L370.73 264.37 L371.07 256.20 L371.40 251.00 L371.72 255.76 L372.03 263.25 L372.35 272.30 L372.67 281.35 L372.98 288.84 L373.30 293.60 L373.64 287.26 L373.98 277.13 L374.32 265.57 L374.66 255.44 L375.00 249.10 L375.30 254.95 L375.60 264.14 L375.90 275.25 L376.20 286.36 L376.50 295.55 L376.80 301.40 L377.14 291.88 L377.48 276.68 L377.82 259.32 L378.16 244.12 L378.50 234.60 L378.80 243.26 L379.10 256.85 L379.40 273.30 L379.70 289.75 L380.00 303.34 L380.30 312.00 L380.60 300.83 L380.90 282.99 L381.20 262.61 L381.50 244.77 L381.80 233.60 L382.14 244.09 L382.48 260.83 L382.82 279.97 L383.16 296.71 L383.50 307.20 L383.85 294.30 L384.20 273.80 L384.55 253.30 L384.90 240.40 L385.20 248.40 L385.50 261.16 L385.80 275.74 L386.10 288.50 L386.40 296.50 L386.75 287.72 L387.10 273.75 L387.45 259.78 L387.80 251.00 L388.12 257.34 L388.44 267.47 L388.76 279.03 L389.08 289.16 L389.40 295.50 L389.72 286.35 L390.05 271.80 L390.38 257.25 L390.70 248.10 L391.02 254.86 L391.34 265.64 L391.66 277.96 L391.98 288.74 L392.30 295.50 L392.62 286.35 L392.95 271.80 L393.28 257.25 L393.60 248.10 L393.92 254.73 L394.24 265.31 L394.56 277.39 L394.88 287.97 L395.20 294.60 L395.50 285.22 L395.80 270.25 L396.10 253.15 L396.40 238.18 L396.70 228.80 L397.05 241.62 L397.40 262.00 L397.75 282.38 L398.10 295.20 L398.40 287.25 L398.70 274.55 L399.00 260.05 L399.30 247.35 L399.60 239.40 L399.95 250.06 L400.30 267.00 L400.65 283.94 L401.00 294.60 L401.30 288.39 L401.60 278.47 L401.90 267.13 L402.20 257.21 L402.50 251.00 L402.82 257.48 L403.14 267.84 L403.46 279.66 L403.78 290.02 L404.10 296.50 L404.40 288.92 L404.70 276.81 L405.00 262.99 L405.30 250.88 L405.60 243.30 L405.92 251.58 L406.24 264.80 L406.56 279.90 L406.88 293.12 L407.20 301.40 L407.52 289.06 L407.85 269.45 L408.18 249.84 L408.50 237.50 L408.82 247.02 L409.14 262.22 L409.46 279.58 L409.78 294.78 L410.10 304.30 L410.43 292.16 L410.75 272.85 L411.07 253.54 L411.40 241.40 L411.75 252.04 L412.10 268.95 L412.45 285.86 L412.80 296.50 L413.10 290.02 L413.40 279.66 L413.70 267.84 L414.00 257.48 L414.30 251.00 L414.65 258.10 L415.00 269.40 L415.35 280.70 L415.70 287.80 L416.02 281.82 L416.35 272.30 L416.68 262.78 L417.00 256.80 L417.32 260.80 L417.64 267.20 L417.96 274.50 L418.28 280.90 L418.60 284.90 L418.93 280.04 L419.25 272.30 L419.57 264.56 L419.90 259.70 L420.25 264.66 L420.60 272.55 L420.95 280.44 L421.30 285.40 L421.60 280.61 L421.90 272.97 L422.20 264.23 L422.50 256.59 L422.80 251.80 L423.12 260.00 L423.45 273.05 L423.78 286.10 L424.10 294.30 L424.45 285.81 L424.80 272.30 L425.15 258.79 L425.50 250.30 L425.85 257.87 L426.20 269.90 L426.55 281.93 L426.90 289.50 L427.22 283.42 L427.55 273.75 L427.88 264.08 L428.20 258.00 L428.50 262.28 L428.80 269.10 L429.10 276.90 L429.40 283.72 L429.70 288.00 L430.02 282.44 L430.35 273.60 L430.68 264.76 L431.00 259.20 L431.32 263.20 L431.64 269.60 L431.96 276.90 L432.28 283.30 L432.60 287.30 L432.93 280.95 L433.25 270.85 L433.57 260.75 L433.90 254.40 L434.22 258.95 L434.54 266.20 L434.86 274.50 L435.18 281.75 L435.50 286.30 L435.82 280.80 L436.15 272.05 L436.48 263.30 L436.80 257.80 L437.12 261.45 L437.44 267.27 L437.76 273.93 L438.08 279.75 L438.40 283.40 L438.72 278.92 L439.05 271.80 L439.38 264.68 L439.70 260.20 L440.02 263.22 L440.34 268.04 L440.66 273.56 L440.98 278.38 L441.30 281.40 L441.60 278.92 L441.90 274.96 L442.20 270.44 L442.50 266.48 L442.80 264.00 L443.12 266.07 L443.44 269.37 L443.76 273.13 L444.08 276.43 L444.40 278.50 L444.72 277.10 L445.03 274.91 L445.35 272.25 L445.67 269.59 L445.98 267.40 L446.30 266.00 L446.65 267.85 L447.00 270.80 L447.35 273.75 L447.70 275.60 L448.02 273.55 L448.35 270.30 L448.68 267.05 L449.00 265.00 L449.35 267.61 L449.70 271.75 L450.05 275.89 L450.40 278.50 L450.72 275.33 L451.05 270.30 L451.38 265.27 L451.70 262.10 L452.05 265.65 L452.40 271.30 L452.75 276.95 L453.10 280.50 L453.43 276.12 L453.75 269.15 L454.07 262.18 L454.40 257.80 L454.75 263.19 L455.10 271.75 L455.45 280.31 L455.80 285.70 L456.15 278.71 L456.50 267.60 L456.85 256.49 L457.20 249.50 L457.52 258.01 L457.85 271.55 L458.18 285.09 L458.50 293.60 L458.85 285.36 L459.20 272.25 L459.55 259.14 L459.90 250.90 L460.22 258.85 L460.55 271.50 L460.88 284.15 L461.20 292.10 L461.55 284.63 L461.90 272.75 L462.25 260.87 L462.60 253.40 L462.93 259.19 L463.25 268.40 L463.57 277.61 L463.90 283.40 L464.25 277.61 L464.60 268.40 L464.95 259.19 L465.30 253.40 L465.62 260.50 L465.95 271.80 L466.28 283.10 L466.60 290.20 L466.95 282.83 L467.30 271.10 L467.65 259.37 L468.00 252.00 L468.35 260.11 L468.70 273.00 L469.05 285.89 L469.40 294.00 L469.72 286.16 L470.05 273.70 L470.38 261.24 L470.70 253.40 L471.05 259.75 L471.40 269.85 L471.75 279.95 L472.10 286.30 L472.43 282.00 L472.75 275.15 L473.07 268.30 L473.40 264.00 L473.72 265.94 L474.04 269.03 L474.36 272.57 L474.68 275.66 L475.00 277.60 L475.30 275.39 L475.60 271.86 L475.90 267.84 L476.20 264.31 L476.50 262.10 L476.85 265.83 L477.20 271.75 L477.55 277.67 L477.90 281.40 L478.22 277.31 L478.55 270.80 L478.88 264.29 L479.20 260.20 L479.55 263.93 L479.90 269.85 L480.25 275.77 L480.60 279.50 L480.93 277.07 L481.25 273.20 L481.57 269.33 L481.90 266.90 L482.22 268.01 L482.54 269.79 L482.86 271.81 L483.18 273.59 L483.50 274.70 L483.80 273.73 L484.10 272.18 L484.40 270.42 L484.70 268.87 L485.00 267.90 L485.35 269.95 L485.70 273.20 L486.05 276.45 L486.40 278.50 L486.72 275.33 L487.05 270.30 L487.38 265.27 L487.70 262.10 L488.02 264.81 L488.34 269.13 L488.66 274.07 L488.98 278.39 L489.30 281.10 L489.62 277.43 L489.95 271.60 L490.28 265.77 L490.60 262.10 L490.92 264.44 L491.24 268.17 L491.56 272.43 L491.88 276.16 L492.20 278.50 L492.52 275.89 L492.85 271.75 L493.18 267.61 L493.50 265.00 L493.82 266.51 L494.14 268.92 L494.46 271.68 L494.78 274.09 L495.10 275.60 L495.43 274.40 L495.75 272.50 L496.07 270.60 L496.40 269.40 L496.72 269.87 L497.04 270.62 L497.36 271.48 L497.68 272.23 L498.00 272.70 L498.35 272.14 L498.70 271.25 L499.05 270.36 L499.40 269.80 L499.70 270.30 L500.00 271.10 L500.30 272.00 L500.60 272.80 L500.90 273.30 L501.25 272.06 L501.60 270.10 L501.95 268.14 L502.30 266.90 L502.60 268.20 L502.90 270.27 L503.20 272.63 L503.50 274.70 L503.80 276.00 L504.15 274.24 L504.50 271.45 L504.85 268.66 L505.20 266.90 L505.54 268.28 L505.88 270.49 L506.22 273.01 L506.56 275.22 L506.90 276.60 L507.20 274.75 L507.50 271.79 L507.80 268.41 L508.10 265.45 L508.40 263.60 L508.72 266.27 L509.04 270.52 L509.36 275.38 L509.68 279.63 L510.00 282.30 L510.30 279.06 L510.60 273.90 L510.90 268.00 L511.20 262.84 L511.50 259.60 L511.85 264.35 L512.20 271.90 L512.55 279.45 L512.90 284.20 L513.20 280.82 L513.50 275.43 L513.80 269.27 L514.10 263.88 L514.40 260.50 L514.75 264.53 L515.10 270.95 L515.45 277.37 L515.80 281.40 L516.15 277.91 L516.50 272.35 L516.85 266.79 L517.20 263.30 L517.53 266.33 L517.85 271.15 L518.17 275.97 L518.50 279.00 L518.85 276.07 L519.20 271.40 L519.55 266.73 L519.90 263.80 L520.23 266.73 L520.55 271.40 L520.88 276.07 L521.20 279.00 L521.55 275.81 L521.90 270.75 L522.25 265.69 L522.60 262.50 L522.92 265.65 L523.25 270.65 L523.58 275.65 L523.90 278.80 L524.25 275.94 L524.60 271.40 L524.95 266.86 L525.30 264.00 L525.62 266.82 L525.95 271.30 L526.27 275.78 L526.60 278.60 L526.95 275.41 L527.30 270.35 L527.65 265.29 L528.00 262.10 L528.35 265.65 L528.70 271.30 L529.05 276.95 L529.40 280.50 L529.73 276.93 L530.05 271.25 L530.38 265.57 L530.70 262.00 L531.05 265.75 L531.40 271.70 L531.75 277.65 L532.10 281.40 L532.42 277.81 L532.75 272.10 L533.08 266.39 L533.40 262.80 L533.75 266.12 L534.10 271.40 L534.45 276.68 L534.80 280.00 L535.15 277.55 L535.50 273.65 L535.85 269.76 L536.20 267.31 L536.55 268.50 L536.90 270.40 L537.26 272.31 L537.61 273.50 L537.96 272.94 L538.31 272.06 L538.66 271.18 L539.01 270.62 L539.32 271.03 L539.63 271.69 L539.95 272.35 L540.26 272.76 L540.61 272.12 L540.95 271.10 L541.30 270.08 L541.64 269.43 L541.96 270.62 L542.28 272.52 L542.60 274.41 L542.92 275.60 L543.24 274.05 L543.56 271.58 L543.89 269.11 L544.21 267.56 L544.53 269.13 L544.84 271.63 L545.15 274.12 L545.47 275.69 L545.79 274.04 L546.12 271.41 L546.45 268.79 L546.77 267.14 L547.12 268.83 L547.47 271.52 L547.83 274.22 L548.18 275.91 L548.50 274.31 L548.82 271.76 L549.13 269.21 L549.45 267.61 L549.77 269.22 L550.09 271.77 L550.41 274.32 L550.73 275.93 L551.05 274.34 L551.38 271.81 L551.70 269.28 L552.02 267.69 L552.38 269.26 L552.74 271.74 L553.11 274.22 L553.47 275.78 L553.80 274.60 L554.12 272.73 L554.45 270.85 L554.78 269.68 L555.14 270.30 L555.49 271.30 L555.85 272.29 L556.21 272.91 L556.53 272.45 L556.85 271.71 L557.17 270.97 L557.49 270.51 L557.81 271.01 L558.14 271.81 L558.46 272.60 L558.78 273.10 L559.11 272.63 L559.44 271.89 L559.76 271.14 L560.09 270.67 L560.41 271.18 L560.73 272.00 L561.05 272.81 L561.37 273.33 L561.69 272.34 L562.01 270.77 L562.32 269.20 L562.64 268.22 L562.98 269.87 L563.32 272.51 L563.67 275.14 L564.01 276.79 L564.35 274.60 L564.70 271.12 L565.05 267.64 L565.39 265.45 L565.72 267.95 L566.05 271.94 L566.38 275.92 L566.71 278.42 L567.06 276.06 L567.41 272.31 L567.76 268.55 L568.10 266.19 L568.44 268.33 L568.78 271.72 L569.11 275.12 L569.45 277.26 L569.77 275.24 L570.10 272.03 L570.42 268.82 L570.75 266.80 L571.10 268.39 L571.46 270.93 L571.81 273.47 L572.17 275.07 L572.52 273.77 L572.87 271.72 L573.22 269.66 L573.58 268.37 L573.92 269.58 L574.26 271.51 L574.60 273.44 L574.94 274.66 L575.26 273.52 L575.57 271.71 L575.89 269.91 L576.20 268.77 L576.52 269.89 L576.84 271.67 L577.16 273.46 L577.48 274.58 L577.83 273.42 L578.18 271.57 L578.54 269.73 L578.89 268.57 L579.23 269.90 L579.57 272.02 L579.90 274.15 L580.24 275.48 L580.59 274.12 L580.94 271.96 L581.30 269.80 L581.65 268.44 L582.00 269.87 L582.35 272.15 L582.70 274.42 L583.05 275.85 L583.40 274.22 L583.76 271.62 L584.11 269.03 L584.47 267.39 L584.83 269.20 L585.19 272.08 L585.55 274.96 L585.91 276.77 L586.25 274.57 L586.58 271.08 L586.92 267.58 L587.26 265.39 L587.58 267.84 L587.90 271.75 L588.22 275.65 L588.54 278.11 L588.89 275.54 L589.23 271.45 L589.58 267.37 L589.93 264.80 L590.28 267.63 L590.62 272.13 L590.97 276.64 L591.32 279.47 L591.66 276.43 L592.00 271.61 L592.35 266.78 L592.69 263.75 L593.02 266.66 L593.35 271.29 L593.68 275.93 L594.00 278.84 L594.32 276.20 L594.64 272.00 L594.95 267.80 L595.27 265.16 L595.63 267.54 L595.99 271.31 L596.35 275.09 L596.71 277.46 L597.06 275.28 L597.41 271.80 L597.77 268.33 L598.12 266.14 L598.45 268.19 L598.79 271.46 L599.12 274.72 L599.46 276.77 L599.81 274.66 L600.17 271.31 L600.53 267.95 L600.89 265.84 L601.23 268.15 L601.56 271.84 L601.90 275.52 L602.24 277.83"/>
<!-- arrow -->
<path d="M59.2 312.4 L36.5 282.2" fill="none" stroke="#111" stroke-width="1.1"/>
<path d="M33.6 278.3 L43.4 283.9 L39.2 285.2 L36.9 288.6 Z" fill="#111"/>
<!-- labels -->
<text x="114.3" y="55.3" font-size="18.8" textLength="11.9" lengthAdjust="spacingAndGlyphs">P</text>
<text x="199.5" y="55.3" font-size="18.8" textLength="9.7" lengthAdjust="spacingAndGlyphs" style="stroke-width:0.65px">S</text>
<text x="322.4" y="55.5" font-size="18.8" textLength="116.2" lengthAdjust="spacingAndGlyphs">Surface Waves</text>
<text x="23.2" y="112" font-size="13" textLength="67.2" lengthAdjust="spacingAndGlyphs">Magnitude</text>
<text x="23.2" y="129.8" font-size="13" textLength="69.2" lengthAdjust="spacingAndGlyphs">8.2 (April 1)</text>
<text x="23.2" y="228.4" font-size="13" textLength="67.2" lengthAdjust="spacingAndGlyphs">Magnitude</text>
<text x="23.2" y="246.7" font-size="13" textLength="71" lengthAdjust="spacingAndGlyphs">7.6 (April 3)</text>
<text x="49.6" y="326.4" font-size="12" textLength="189.8" lengthAdjust="spacingAndGlyphs">Surface Waves from magnitude 6.4</text>
<text x="49.6" y="338.6" font-size="12" textLength="129.6" lengthAdjust="spacingAndGlyphs">event 45 minutes earlier</text>
<text x="291.2" y="372.5" font-size="15" textLength="134.3" lengthAdjust="spacingAndGlyphs">Distance ~8000 km</text>
<text x="11.6" y="419" font-size="14.5" textLength="8.4" lengthAdjust="spacingAndGlyphs">0</text>
<text x="201.4" y="419" font-size="14.5" textLength="17.4" lengthAdjust="spacingAndGlyphs">20</text>
<text x="399.6" y="419" font-size="14.5" textLength="16.4" lengthAdjust="spacingAndGlyphs">40</text>
<text x="596.6" y="419" font-size="14.5" textLength="16.8" lengthAdjust="spacingAndGlyphs">60</text>
<text x="60.2" y="432.6" font-size="15.7" textLength="109.6" lengthAdjust="spacingAndGlyphs">Time (minutes)</text>
<text x="60.2" y="454.1" font-size="15.9" textLength="425.6" lengthAdjust="spacingAndGlyphs">TROLL station, Dronning Maud Land, Antarctica (NORSAR)</text>
<!-- logo -->
<g id="logo" fill="#15124f" fill-rule="evenodd">
<path d="M406.1 347.9 V324.4 Q406.1 320.9 409.6 320.9 H416.7 L423.1 333 V320.9 H434.9 V347.9 H421.9 L415.1 334.3 V347.9 Z"/>
<path d="M463.6 347.9 V321.2 H486.6 Q490.8 321.2 490.8 325.4 V331.6 Q490.8 335.2 487.6 336.6 L486.6 337.6 L490.3 347.9 H482.2 L476.3 334.2 V347.9 Z M476.3 328.2 H479.2 Q481.4 328.2 481.4 330.4 Q481.4 332.7 479.2 332.7 H476.3 Z"/>
<path d="M496.7 321.3 H517.7 L515.5 328.4 H502.6 Q501 328.4 501 329.4 Q501 330.4 502.5 330.5 C507 331.2 510.9 335 510.9 340 V343.4 Q510.9 347.9 506.4 347.9 H491.4 L489.6 341 H500.5 Q502 341 502 339.9 Q502 338.6 500.3 338.2 C495.5 337.3 492.3 335 492.3 330.5 V325.5 Q492.3 321.3 496.7 321.3 Z"/>
<path d="M511.1 347.9 L519.2 323.6 Q520 321.3 522.4 321.3 H527.9 Q530.1 321.3 530.8 323.6 L538.4 347.9 H528.4 L527.5 343.4 H521.9 L521.2 347.9 Z M524.7 328.4 L527 336.8 H521.9 Z"/>
<path d="M540.2 347.9 V324.6 Q540.2 321.1 543.7 321.1 H560 Q564.2 321.1 564.2 325.3 V332 Q564.2 335.8 560.6 337.4 L559.9 338.4 L564.1 347.9 H554.4 L549.6 334.5 V347.9 Z M549.6 328.4 H552.7 Q554.9 328.4 554.9 330.7 Q554.9 333 552.7 333 H549.6 Z"/>
<ellipse cx="449.6" cy="333.6" rx="17.9" ry="16.9" fill="#fff"/>
<ellipse cx="449.6" cy="333.55" rx="15.6" ry="14.5" fill="#0a83db"/>
</g>

</svg>
</body></html>
